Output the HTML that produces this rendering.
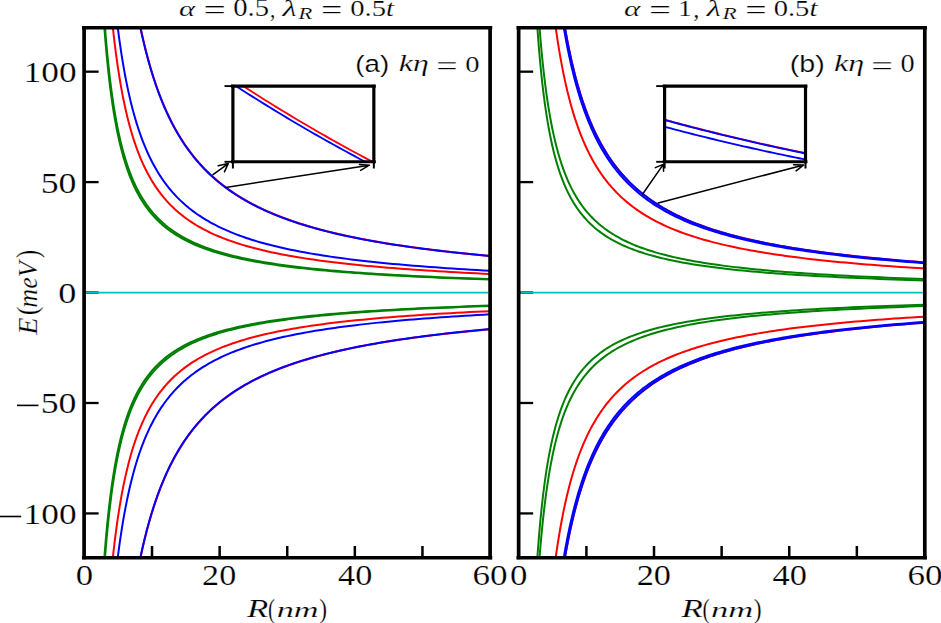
<!DOCTYPE html>
<html><head><meta charset="utf-8"><style>html,body{margin:0;padding:0;background:#fff;width:941px;height:623px;overflow:hidden}</style></head>
<body>
<svg width="941" height="623" viewBox="0 0 771.31 623" preserveAspectRatio="none" style="position:absolute;left:0;top:0">
<clipPath id="clipL"><rect x="68.93" y="27.7" width="332.79" height="530.0999999999999"/></clipPath>
<clipPath id="clipR"><rect x="425.12" y="27.7" width="332.91" height="530.0999999999999"/></clipPath>
<g clip-path="url(#clipL)" fill="none" stroke-width="2.0" stroke-linejoin="round">
<path d="M84.27,5.41 L84.57,10.9 L84.87,16.29 L85.17,21.58 L85.48,26.77 L85.8,31.86 L86.13,36.85 L86.46,41.74 L86.79,46.54 L87.14,51.25 L87.49,55.87 L87.85,60.4 L88.21,64.85 L88.58,69.21 L88.96,73.48 L89.35,77.68 L89.74,81.79 L90.14,85.82 L90.55,89.78 L90.97,93.66 L91.39,97.47 L91.83,101.2 L92.27,104.87 L92.72,108.46 L93.18,111.98 L93.65,115.44 L94.12,118.83 L94.61,122.16 L95.11,125.42 L95.61,128.62 L96.13,131.76 L96.66,134.83 L97.19,137.85 L97.74,140.81 L98.3,143.72 L98.86,146.57 L99.44,149.36 L100.03,152.1 L100.64,154.79 L101.25,157.43 L101.88,160.02 L102.51,162.55 L103.16,165.04 L103.83,167.48 L104.5,169.88 L105.19,172.23 L105.9,174.53 L106.61,176.79 L107.34,179 L108.09,181.18 L108.85,183.31 L109.62,185.4 L110.41,187.45 L111.22,189.46 L112.04,191.44 L112.87,193.37 L113.72,195.27 L114.59,197.13 L115.48,198.96 L116.38,200.75 L117.31,202.51 L118.24,204.23 L119.2,205.92 L120.18,207.58 L121.17,209.21 L122.19,210.8 L123.22,212.37 L124.28,213.9 L125.35,215.41 L126.45,216.89 L127.57,218.33 L128.71,219.75 L129.87,221.15 L131.05,222.52 L132.26,223.86 L133.49,225.17 L134.75,226.46 L136.03,227.73 L137.33,228.97 L138.66,230.18 L140.02,231.38 L141.4,232.55 L142.81,233.7 L144.25,234.82 L145.71,235.93 L147.2,237.01 L148.73,238.08 L150.28,239.12 L151.86,240.14 L153.48,241.15 L155.12,242.13 L156.8,243.09 L158.51,244.04 L160.25,244.97 L162.03,245.88 L163.84,246.77 L165.69,247.65 L167.57,248.51 L169.49,249.35 L171.45,250.18 L173.45,250.99 L175.48,251.79 L177.56,252.57 L179.67,253.33 L181.83,254.08 L184.03,254.82 L186.27,255.54 L188.55,256.25 L190.88,256.94 L193.26,257.63 L195.68,258.29 L198.15,258.95 L200.66,259.59 L203.23,260.22 L205.85,260.84 L208.51,261.45 L211.23,262.05 L214.01,262.63 L216.83,263.2 L219.71,263.76 L222.65,264.32 L225.65,264.86 L228.7,265.39 L231.81,265.91 L234.99,266.42 L238.22,266.92 L241.52,267.41 L244.89,267.89 L248.32,268.36 L251.81,268.82 L255.38,269.28 L259.01,269.72 L262.72,270.16 L266.49,270.59 L270.34,271.01 L274.27,271.42 L278.27,271.83 L282.35,272.22 L286.51,272.61 L290.76,272.99 L295.08,273.37 L299.49,273.74 L303.98,274.1 L308.57,274.45 L313.24,274.8 L318,275.14 L322.86,275.47 L327.81,275.8 L332.86,276.12 L338,276.43 L343.25,276.74 L348.6,277.04 L354.05,277.34 L359.61,277.63 L365.28,277.92 L371.06,278.2 L376.95,278.47 L382.96,278.74 L389.08,279 L395.32,279.26 L401.69,279.52" stroke="#008000" vector-effect="non-scaling-stroke"/>
<path d="M84.78,5.41 L85.08,10.84 L85.39,16.18 L85.7,21.41 L86.02,26.55 L86.35,31.59 L86.68,36.53 L87.02,41.38 L87.36,46.13 L87.71,50.8 L88.07,55.38 L88.43,59.87 L88.81,64.28 L89.19,68.6 L89.57,72.84 L89.97,77 L90.37,81.09 L90.78,85.09 L91.19,89.02 L91.62,92.87 L92.05,96.66 L92.49,100.37 L92.94,104 L93.4,107.58 L93.87,111.08 L94.34,114.52 L94.83,117.89 L95.33,121.2 L95.83,124.44 L96.34,127.62 L96.87,130.75 L97.4,133.81 L97.95,136.82 L98.5,139.77 L99.07,142.66 L99.65,145.5 L100.23,148.28 L100.83,151.02 L101.45,153.7 L102.07,156.33 L102.7,158.91 L103.35,161.44 L104.01,163.92 L104.68,166.36 L105.37,168.75 L106.07,171.09 L106.78,173.39 L107.5,175.65 L108.24,177.86 L109,180.03 L109.77,182.17 L110.55,184.26 L111.35,186.31 L112.16,188.32 L112.99,190.29 L113.84,192.23 L114.7,194.13 L115.58,195.99 L116.47,197.82 L117.39,199.62 L118.32,201.38 L119.27,203.1 L120.23,204.8 L121.22,206.46 L122.22,208.09 L123.25,209.69 L124.29,211.26 L125.36,212.8 L126.44,214.31 L127.55,215.79 L128.67,217.24 L129.82,218.67 L130.99,220.07 L132.18,221.44 L133.4,222.79 L134.64,224.11 L135.9,225.41 L137.19,226.68 L138.51,227.92 L139.84,229.15 L141.21,230.35 L142.6,231.53 L144.02,232.68 L145.46,233.82 L146.93,234.93 L148.43,236.02 L149.96,237.09 L151.52,238.14 L153.11,239.17 L154.73,240.18 L156.38,241.17 L158.07,242.15 L159.78,243.1 L161.53,244.04 L163.31,244.96 L165.13,245.86 L166.98,246.74 L168.87,247.61 L170.8,248.46 L172.76,249.3 L174.76,250.12 L176.8,250.92 L178.87,251.71 L180.99,252.48 L183.15,253.24 L185.35,253.98 L187.59,254.72 L189.88,255.43 L192.21,256.13 L194.58,256.82 L197,257.5 L199.47,258.16 L201.99,258.82 L204.55,259.45 L207.16,260.08 L209.83,260.7 L212.54,261.3 L215.31,261.89 L218.13,262.47 L221.01,263.04 L223.94,263.6 L226.92,264.15 L229.97,264.69 L233.07,265.21 L236.24,265.73 L239.46,266.24 L242.75,266.74 L246.1,267.23 L249.52,267.71 L253,268.18 L256.54,268.64 L260.16,269.09 L263.85,269.54 L267.61,269.97 L271.44,270.4 L275.34,270.82 L279.32,271.23 L283.38,271.63 L287.51,272.03 L291.73,272.42 L296.02,272.8 L300.4,273.17 L304.87,273.54 L309.42,273.9 L314.05,274.25 L318.78,274.6 L323.6,274.94 L328.51,275.27 L333.52,275.6 L338.62,275.92 L343.82,276.24 L349.12,276.55 L354.53,276.85 L360.03,277.15 L365.65,277.44 L371.37,277.72 L377.21,278.01 L383.15,278.28 L389.21,278.55 L395.39,278.82 L401.69,279.08" stroke="#008000" vector-effect="non-scaling-stroke"/>
<path d="M90.71,5.41 L91.08,10.28 L91.46,15.06 L91.84,19.77 L92.23,24.4 L92.63,28.95 L93.04,33.42 L93.45,37.81 L93.87,42.14 L94.29,46.38 L94.72,50.56 L95.17,54.66 L95.61,58.7 L96.07,62.67 L96.53,66.57 L97.01,70.4 L97.49,74.17 L97.97,77.87 L98.47,81.51 L98.98,85.09 L99.49,88.61 L100.01,92.07 L100.55,95.47 L101.09,98.81 L101.64,102.1 L102.2,105.33 L102.77,108.51 L103.35,111.63 L103.94,114.7 L104.54,117.71 L105.15,120.68 L105.77,123.6 L106.4,126.46 L107.04,129.28 L107.69,132.05 L108.36,134.77 L109.04,137.45 L109.72,140.08 L110.42,142.66 L111.13,145.21 L111.86,147.71 L112.59,150.16 L113.34,152.58 L114.11,154.95 L114.88,157.29 L115.67,159.58 L116.47,161.84 L117.29,164.05 L118.12,166.23 L118.96,168.38 L119.82,170.48 L120.69,172.55 L121.58,174.59 L122.49,176.59 L123.41,178.56 L124.34,180.49 L125.3,182.39 L126.26,184.26 L127.25,186.1 L128.25,187.9 L129.27,189.68 L130.31,191.42 L131.36,193.14 L132.43,194.82 L133.53,196.48 L134.64,198.11 L135.77,199.71 L136.91,201.29 L138.08,202.84 L139.27,204.36 L140.48,205.85 L141.71,207.32 L142.96,208.77 L144.24,210.19 L145.53,211.59 L146.85,212.96 L148.19,214.31 L149.55,215.64 L150.94,216.94 L152.35,218.23 L153.79,219.49 L155.25,220.73 L156.73,221.94 L158.24,223.14 L159.78,224.32 L161.34,225.48 L162.93,226.61 L164.55,227.73 L166.2,228.83 L167.87,229.91 L169.57,230.98 L171.31,232.02 L173.07,233.05 L174.86,234.06 L176.68,235.05 L178.54,236.02 L180.43,236.98 L182.35,237.93 L184.3,238.85 L186.28,239.76 L188.3,240.66 L190.36,241.54 L192.45,242.4 L194.58,243.25 L196.74,244.09 L198.94,244.91 L201.18,245.72 L203.46,246.52 L205.78,247.3 L208.13,248.06 L210.53,248.82 L212.97,249.56 L215.45,250.29 L217.98,251.01 L220.54,251.71 L223.16,252.4 L225.81,253.08 L228.52,253.75 L231.26,254.41 L234.06,255.06 L236.91,255.69 L239.8,256.32 L242.75,256.93 L245.74,257.54 L248.79,258.13 L251.89,258.72 L255.04,259.29 L258.25,259.85 L261.51,260.41 L264.83,260.95 L268.2,261.49 L271.64,262.02 L275.13,262.54 L278.68,263.04 L282.3,263.54 L285.98,264.04 L289.72,264.52 L293.52,265 L297.39,265.46 L301.33,265.92 L305.34,266.37 L309.41,266.82 L313.56,267.25 L317.78,267.68 L322.06,268.11 L326.43,268.52 L330.87,268.93 L335.38,269.33 L339.98,269.72 L344.65,270.11 L349.4,270.49 L354.24,270.86 L359.16,271.23 L364.16,271.59 L369.25,271.95 L374.43,272.3 L379.7,272.64 L385.05,272.98 L390.5,273.31 L396.05,273.64 L401.69,273.96" stroke="#ff0000" vector-effect="non-scaling-stroke"/>
<path d="M94.42,5.41 L94.83,10 L95.24,14.51 L95.67,18.96 L96.1,23.33 L96.53,27.63 L96.98,31.87 L97.43,36.04 L97.89,40.14 L98.36,44.17 L98.83,48.14 L99.31,52.05 L99.8,55.89 L100.3,59.68 L100.8,63.4 L101.32,67.06 L101.84,70.67 L102.37,74.21 L102.91,77.7 L103.46,81.14 L104.01,84.52 L104.58,87.84 L105.16,91.12 L105.74,94.34 L106.33,97.51 L106.94,100.62 L107.55,103.69 L108.17,106.71 L108.81,109.68 L109.45,112.6 L110.11,115.48 L110.77,118.31 L111.45,121.1 L112.13,123.84 L112.83,126.53 L113.54,129.19 L114.26,131.8 L114.99,134.37 L115.74,136.9 L116.49,139.39 L117.26,141.83 L118.04,144.24 L118.84,146.62 L119.64,148.95 L120.46,151.24 L121.3,153.5 L122.14,155.73 L123,157.91 L123.88,160.06 L124.77,162.18 L125.67,164.27 L126.59,166.32 L127.52,168.34 L128.47,170.32 L129.43,172.27 L130.41,174.2 L131.4,176.09 L132.41,177.95 L133.44,179.78 L134.49,181.59 L135.55,183.36 L136.62,185.1 L137.72,186.82 L138.83,188.51 L139.96,190.18 L141.11,191.81 L142.28,193.42 L143.47,195.01 L144.68,196.57 L145.9,198.1 L147.15,199.61 L148.42,201.1 L149.7,202.56 L151.01,204 L152.34,205.41 L153.69,206.81 L155.07,208.18 L156.46,209.52 L157.88,210.85 L159.32,212.16 L160.78,213.44 L162.27,214.71 L163.79,215.95 L165.32,217.18 L166.88,218.38 L168.47,219.57 L170.08,220.73 L171.72,221.88 L173.39,223.01 L175.08,224.12 L176.8,225.22 L178.55,226.29 L180.33,227.35 L182.13,228.39 L183.97,229.42 L185.83,230.43 L187.73,231.42 L189.65,232.4 L191.61,233.36 L193.6,234.31 L195.62,235.24 L197.68,236.15 L199.76,237.06 L201.88,237.94 L204.04,238.82 L206.23,239.68 L208.46,240.52 L210.72,241.35 L213.02,242.17 L215.36,242.98 L217.73,243.77 L220.14,244.55 L222.6,245.32 L225.09,246.07 L227.62,246.81 L230.2,247.54 L232.81,248.26 L235.47,248.97 L238.17,249.67 L240.92,250.35 L243.71,251.03 L246.54,251.69 L249.42,252.35 L252.35,252.99 L255.33,253.62 L258.35,254.24 L261.42,254.86 L264.55,255.46 L267.72,256.05 L270.95,256.63 L274.22,257.21 L277.55,257.77 L280.94,258.33 L284.38,258.88 L287.88,259.41 L291.43,259.94 L295.04,260.47 L298.71,260.98 L302.44,261.48 L306.23,261.98 L310.08,262.47 L313.99,262.95 L317.97,263.42 L322.01,263.89 L326.12,264.35 L330.29,264.8 L334.53,265.24 L338.84,265.68 L343.22,266.11 L347.68,266.53 L352.2,266.95 L356.8,267.36 L361.47,267.76 L366.22,268.15 L371.04,268.54 L375.95,268.93 L380.93,269.31 L386,269.68 L391.14,270.04 L396.37,270.4 L401.69,270.76" stroke="#0000ff" vector-effect="non-scaling-stroke"/>
<path d="M111.64,5.41 L112.19,9.08 L112.75,12.7 L113.31,16.28 L113.88,19.81 L114.46,23.29 L115.05,26.73 L115.64,30.13 L116.24,33.49 L116.85,36.8 L117.47,40.07 L118.09,43.29 L118.73,46.48 L119.37,49.62 L120.02,52.73 L120.68,55.79 L121.34,58.82 L122.02,61.81 L122.7,64.76 L123.39,67.67 L124.1,70.54 L124.81,73.38 L125.53,76.18 L126.26,78.95 L127,81.68 L127.74,84.37 L128.5,87.03 L129.27,89.66 L130.05,92.25 L130.84,94.81 L131.63,97.34 L132.44,99.83 L133.26,102.3 L134.09,104.73 L134.93,107.13 L135.78,109.5 L136.65,111.84 L137.52,114.15 L138.4,116.43 L139.3,118.68 L140.21,120.9 L141.13,123.09 L142.06,125.26 L143,127.4 L143.96,129.51 L144.93,131.59 L145.91,133.65 L146.9,135.68 L147.91,137.69 L148.93,139.67 L149.96,141.62 L151,143.55 L152.06,145.45 L153.14,147.33 L154.22,149.19 L155.32,151.02 L156.44,152.83 L157.57,154.62 L158.71,156.38 L159.87,158.12 L161.05,159.84 L162.24,161.53 L163.44,163.21 L164.66,164.86 L165.9,166.49 L167.15,168.1 L168.42,169.7 L169.7,171.27 L171,172.82 L172.32,174.35 L173.66,175.86 L175.01,177.35 L176.38,178.82 L177.77,180.27 L179.17,181.71 L180.6,183.13 L182.04,184.52 L183.5,185.9 L184.98,187.27 L186.48,188.61 L188,189.94 L189.54,191.25 L191.1,192.55 L192.67,193.83 L194.27,195.09 L195.89,196.33 L197.53,197.56 L199.19,198.78 L200.88,199.98 L202.58,201.16 L204.31,202.33 L206.06,203.48 L207.83,204.62 L209.63,205.74 L211.44,206.85 L213.29,207.95 L215.15,209.03 L217.04,210.1 L218.96,211.15 L220.9,212.19 L222.86,213.22 L224.85,214.23 L226.86,215.23 L228.91,216.22 L230.97,217.2 L233.07,218.16 L235.19,219.11 L237.34,220.05 L239.52,220.98 L241.72,221.89 L243.96,222.79 L246.22,223.68 L248.51,224.56 L250.83,225.43 L253.18,226.29 L255.57,227.14 L257.98,227.97 L260.42,228.8 L262.9,229.61 L265.41,230.42 L267.95,231.21 L270.52,232 L273.13,232.77 L275.77,233.53 L278.44,234.29 L281.15,235.03 L283.9,235.77 L286.68,236.49 L289.49,237.21 L292.34,237.92 L295.23,238.62 L298.16,239.31 L301.12,239.99 L304.13,240.66 L307.17,241.32 L310.25,241.98 L313.37,242.62 L316.53,243.26 L319.73,243.89 L322.98,244.51 L326.26,245.13 L329.59,245.73 L332.96,246.33 L336.38,246.92 L339.84,247.5 L343.34,248.08 L346.89,248.65 L350.49,249.21 L354.13,249.76 L357.82,250.31 L361.55,250.85 L365.34,251.38 L369.17,251.91 L373.06,252.43 L376.99,252.94 L380.98,253.45 L385.01,253.95 L389.1,254.44 L393.24,254.93 L397.44,255.41 L401.69,255.88" stroke="#ff0000" vector-effect="non-scaling-stroke"/>
<path d="M111.51,5.41 L112.06,9.08 L112.62,12.71 L113.18,16.29 L113.75,19.83 L114.33,23.32 L114.91,26.76 L115.51,30.17 L116.11,33.52 L116.71,36.84 L117.33,40.11 L117.96,43.34 L118.59,46.53 L119.23,49.68 L119.88,52.79 L120.53,55.86 L121.2,58.89 L121.87,61.88 L122.56,64.83 L123.25,67.75 L123.95,70.62 L124.66,73.47 L125.38,76.27 L126.11,79.04 L126.85,81.77 L127.6,84.47 L128.35,87.13 L129.12,89.76 L129.9,92.36 L130.68,94.92 L131.48,97.45 L132.29,99.95 L133.11,102.41 L133.94,104.84 L134.78,107.25 L135.63,109.62 L136.49,111.96 L137.36,114.27 L138.24,116.55 L139.14,118.81 L140.05,121.03 L140.97,123.23 L141.9,125.39 L142.84,127.53 L143.79,129.64 L144.76,131.73 L145.74,133.79 L146.73,135.82 L147.74,137.83 L148.76,139.81 L149.79,141.76 L150.84,143.69 L151.89,145.6 L152.97,147.48 L154.05,149.34 L155.15,151.17 L156.27,152.98 L157.4,154.76 L158.54,156.53 L159.7,158.27 L160.87,159.99 L162.06,161.68 L163.27,163.36 L164.49,165.01 L165.72,166.65 L166.97,168.26 L168.24,169.85 L169.53,171.42 L170.83,172.97 L172.15,174.5 L173.48,176.01 L174.83,177.5 L176.2,178.97 L177.59,180.43 L179,181.86 L180.42,183.28 L181.86,184.68 L183.32,186.06 L184.8,187.42 L186.3,188.77 L187.82,190.1 L189.36,191.41 L190.92,192.7 L192.49,193.98 L194.09,195.24 L195.71,196.49 L197.35,197.72 L199.02,198.93 L200.7,200.13 L202.4,201.31 L204.13,202.48 L205.88,203.63 L207.65,204.77 L209.45,205.89 L211.27,207 L213.11,208.1 L214.98,209.18 L216.87,210.25 L218.78,211.3 L220.72,212.34 L222.69,213.37 L224.68,214.38 L226.69,215.38 L228.73,216.37 L230.8,217.34 L232.9,218.31 L235.02,219.26 L237.17,220.19 L239.35,221.12 L241.56,222.03 L243.79,222.94 L246.05,223.83 L248.35,224.71 L250.67,225.58 L253.02,226.43 L255.41,227.28 L257.82,228.12 L260.27,228.94 L262.75,229.75 L265.25,230.56 L267.8,231.35 L270.37,232.13 L272.98,232.91 L275.62,233.67 L278.3,234.43 L281.01,235.17 L283.76,235.9 L286.54,236.63 L289.36,237.34 L292.21,238.05 L295.1,238.75 L298.03,239.44 L301,240.12 L304.01,240.79 L307.05,241.45 L310.14,242.1 L313.26,242.75 L316.42,243.39 L319.63,244.02 L322.88,244.64 L326.17,245.25 L329.5,245.86 L332.87,246.45 L336.29,247.04 L339.76,247.63 L343.26,248.2 L346.82,248.77 L350.42,249.33 L354.06,249.88 L357.76,250.43 L361.5,250.97 L365.29,251.5 L369.13,252.03 L373.02,252.54 L376.96,253.06 L380.95,253.56 L384.99,254.06 L389.08,254.55 L393.23,255.04 L397.43,255.52 L401.69,255.99" stroke="#0000ff" vector-effect="non-scaling-stroke"/>
<path d="M84.27,579.69 L84.57,574.2 L84.87,568.81 L85.17,563.52 L85.48,558.33 L85.8,553.24 L86.13,548.25 L86.46,543.36 L86.79,538.56 L87.14,533.85 L87.49,529.23 L87.85,524.7 L88.21,520.25 L88.58,515.89 L88.96,511.62 L89.35,507.42 L89.74,503.31 L90.14,499.28 L90.55,495.32 L90.97,491.44 L91.39,487.63 L91.83,483.9 L92.27,480.23 L92.72,476.64 L93.18,473.12 L93.65,469.66 L94.12,466.27 L94.61,462.94 L95.11,459.68 L95.61,456.48 L96.13,453.34 L96.66,450.27 L97.19,447.25 L97.74,444.29 L98.3,441.38 L98.86,438.53 L99.44,435.74 L100.03,433 L100.64,430.31 L101.25,427.67 L101.88,425.08 L102.51,422.55 L103.16,420.06 L103.83,417.62 L104.5,415.22 L105.19,412.87 L105.9,410.57 L106.61,408.31 L107.34,406.1 L108.09,403.92 L108.85,401.79 L109.62,399.7 L110.41,397.65 L111.22,395.64 L112.04,393.66 L112.87,391.73 L113.72,389.83 L114.59,387.97 L115.48,386.14 L116.38,384.35 L117.31,382.59 L118.24,380.87 L119.2,379.18 L120.18,377.52 L121.17,375.89 L122.19,374.3 L123.22,372.73 L124.28,371.2 L125.35,369.69 L126.45,368.21 L127.57,366.77 L128.71,365.35 L129.87,363.95 L131.05,362.58 L132.26,361.24 L133.49,359.93 L134.75,358.64 L136.03,357.37 L137.33,356.13 L138.66,354.92 L140.02,353.72 L141.4,352.55 L142.81,351.4 L144.25,350.28 L145.71,349.17 L147.2,348.09 L148.73,347.02 L150.28,345.98 L151.86,344.96 L153.48,343.95 L155.12,342.97 L156.8,342.01 L158.51,341.06 L160.25,340.13 L162.03,339.22 L163.84,338.33 L165.69,337.45 L167.57,336.59 L169.49,335.75 L171.45,334.92 L173.45,334.11 L175.48,333.31 L177.56,332.53 L179.67,331.77 L181.83,331.02 L184.03,330.28 L186.27,329.56 L188.55,328.85 L190.88,328.16 L193.26,327.47 L195.68,326.81 L198.15,326.15 L200.66,325.51 L203.23,324.88 L205.85,324.26 L208.51,323.65 L211.23,323.05 L214.01,322.47 L216.83,321.9 L219.71,321.34 L222.65,320.78 L225.65,320.24 L228.7,319.71 L231.81,319.19 L234.99,318.68 L238.22,318.18 L241.52,317.69 L244.89,317.21 L248.32,316.74 L251.81,316.28 L255.38,315.82 L259.01,315.38 L262.72,314.94 L266.49,314.51 L270.34,314.09 L274.27,313.68 L278.27,313.27 L282.35,312.88 L286.51,312.49 L290.76,312.11 L295.08,311.73 L299.49,311.36 L303.98,311 L308.57,310.65 L313.24,310.3 L318,309.96 L322.86,309.63 L327.81,309.3 L332.86,308.98 L338,308.67 L343.25,308.36 L348.6,308.06 L354.05,307.76 L359.61,307.47 L365.28,307.18 L371.06,306.9 L376.95,306.63 L382.96,306.36 L389.08,306.1 L395.32,305.84 L401.69,305.58" stroke="#008000" vector-effect="non-scaling-stroke"/>
<path d="M84.78,579.69 L85.08,574.26 L85.39,568.92 L85.7,563.69 L86.02,558.55 L86.35,553.51 L86.68,548.57 L87.02,543.72 L87.36,538.97 L87.71,534.3 L88.07,529.72 L88.43,525.23 L88.81,520.82 L89.19,516.5 L89.57,512.26 L89.97,508.1 L90.37,504.01 L90.78,500.01 L91.19,496.08 L91.62,492.23 L92.05,488.44 L92.49,484.73 L92.94,481.1 L93.4,477.52 L93.87,474.02 L94.34,470.58 L94.83,467.21 L95.33,463.9 L95.83,460.66 L96.34,457.48 L96.87,454.35 L97.4,451.29 L97.95,448.28 L98.5,445.33 L99.07,442.44 L99.65,439.6 L100.23,436.82 L100.83,434.08 L101.45,431.4 L102.07,428.77 L102.7,426.19 L103.35,423.66 L104.01,421.18 L104.68,418.74 L105.37,416.35 L106.07,414.01 L106.78,411.71 L107.5,409.45 L108.24,407.24 L109,405.07 L109.77,402.93 L110.55,400.84 L111.35,398.79 L112.16,396.78 L112.99,394.81 L113.84,392.87 L114.7,390.97 L115.58,389.11 L116.47,387.28 L117.39,385.48 L118.32,383.72 L119.27,382 L120.23,380.3 L121.22,378.64 L122.22,377.01 L123.25,375.41 L124.29,373.84 L125.36,372.3 L126.44,370.79 L127.55,369.31 L128.67,367.86 L129.82,366.43 L130.99,365.03 L132.18,363.66 L133.4,362.31 L134.64,360.99 L135.9,359.69 L137.19,358.42 L138.51,357.18 L139.84,355.95 L141.21,354.75 L142.6,353.57 L144.02,352.42 L145.46,351.28 L146.93,350.17 L148.43,349.08 L149.96,348.01 L151.52,346.96 L153.11,345.93 L154.73,344.92 L156.38,343.93 L158.07,342.95 L159.78,342 L161.53,341.06 L163.31,340.14 L165.13,339.24 L166.98,338.36 L168.87,337.49 L170.8,336.64 L172.76,335.8 L174.76,334.98 L176.8,334.18 L178.87,333.39 L180.99,332.62 L183.15,331.86 L185.35,331.12 L187.59,330.38 L189.88,329.67 L192.21,328.97 L194.58,328.28 L197,327.6 L199.47,326.94 L201.99,326.28 L204.55,325.65 L207.16,325.02 L209.83,324.4 L212.54,323.8 L215.31,323.21 L218.13,322.63 L221.01,322.06 L223.94,321.5 L226.92,320.95 L229.97,320.41 L233.07,319.89 L236.24,319.37 L239.46,318.86 L242.75,318.36 L246.1,317.87 L249.52,317.39 L253,316.92 L256.54,316.46 L260.16,316.01 L263.85,315.56 L267.61,315.13 L271.44,314.7 L275.34,314.28 L279.32,313.87 L283.38,313.47 L287.51,313.07 L291.73,312.68 L296.02,312.3 L300.4,311.93 L304.87,311.56 L309.42,311.2 L314.05,310.85 L318.78,310.5 L323.6,310.16 L328.51,309.83 L333.52,309.5 L338.62,309.18 L343.82,308.86 L349.12,308.55 L354.53,308.25 L360.03,307.95 L365.65,307.66 L371.37,307.38 L377.21,307.09 L383.15,306.82 L389.21,306.55 L395.39,306.28 L401.69,306.02" stroke="#008000" vector-effect="non-scaling-stroke"/>
<path d="M90.71,579.69 L91.08,574.82 L91.46,570.04 L91.84,565.33 L92.23,560.7 L92.63,556.15 L93.04,551.68 L93.45,547.29 L93.87,542.96 L94.29,538.72 L94.72,534.54 L95.17,530.44 L95.61,526.4 L96.07,522.43 L96.53,518.53 L97.01,514.7 L97.49,510.93 L97.97,507.23 L98.47,503.59 L98.98,500.01 L99.49,496.49 L100.01,493.03 L100.55,489.63 L101.09,486.29 L101.64,483 L102.2,479.77 L102.77,476.59 L103.35,473.47 L103.94,470.4 L104.54,467.39 L105.15,464.42 L105.77,461.5 L106.4,458.64 L107.04,455.82 L107.69,453.05 L108.36,450.33 L109.04,447.65 L109.72,445.02 L110.42,442.44 L111.13,439.89 L111.86,437.39 L112.59,434.94 L113.34,432.52 L114.11,430.15 L114.88,427.81 L115.67,425.52 L116.47,423.26 L117.29,421.05 L118.12,418.87 L118.96,416.72 L119.82,414.62 L120.69,412.55 L121.58,410.51 L122.49,408.51 L123.41,406.54 L124.34,404.61 L125.3,402.71 L126.26,400.84 L127.25,399 L128.25,397.2 L129.27,395.42 L130.31,393.68 L131.36,391.96 L132.43,390.28 L133.53,388.62 L134.64,386.99 L135.77,385.39 L136.91,383.81 L138.08,382.26 L139.27,380.74 L140.48,379.25 L141.71,377.78 L142.96,376.33 L144.24,374.91 L145.53,373.51 L146.85,372.14 L148.19,370.79 L149.55,369.46 L150.94,368.16 L152.35,366.87 L153.79,365.61 L155.25,364.37 L156.73,363.16 L158.24,361.96 L159.78,360.78 L161.34,359.62 L162.93,358.49 L164.55,357.37 L166.2,356.27 L167.87,355.19 L169.57,354.12 L171.31,353.08 L173.07,352.05 L174.86,351.04 L176.68,350.05 L178.54,349.08 L180.43,348.12 L182.35,347.17 L184.3,346.25 L186.28,345.34 L188.3,344.44 L190.36,343.56 L192.45,342.7 L194.58,341.85 L196.74,341.01 L198.94,340.19 L201.18,339.38 L203.46,338.58 L205.78,337.8 L208.13,337.04 L210.53,336.28 L212.97,335.54 L215.45,334.81 L217.98,334.09 L220.54,333.39 L223.16,332.7 L225.81,332.02 L228.52,331.35 L231.26,330.69 L234.06,330.04 L236.91,329.41 L239.8,328.78 L242.75,328.17 L245.74,327.56 L248.79,326.97 L251.89,326.38 L255.04,325.81 L258.25,325.25 L261.51,324.69 L264.83,324.15 L268.2,323.61 L271.64,323.08 L275.13,322.56 L278.68,322.06 L282.3,321.56 L285.98,321.06 L289.72,320.58 L293.52,320.1 L297.39,319.64 L301.33,319.18 L305.34,318.73 L309.41,318.28 L313.56,317.85 L317.78,317.42 L322.06,316.99 L326.43,316.58 L330.87,316.17 L335.38,315.77 L339.98,315.38 L344.65,314.99 L349.4,314.61 L354.24,314.24 L359.16,313.87 L364.16,313.51 L369.25,313.15 L374.43,312.8 L379.7,312.46 L385.05,312.12 L390.5,311.79 L396.05,311.46 L401.69,311.14" stroke="#ff0000" vector-effect="non-scaling-stroke"/>
<path d="M94.42,579.69 L94.83,575.1 L95.24,570.59 L95.67,566.14 L96.1,561.77 L96.53,557.47 L96.98,553.23 L97.43,549.06 L97.89,544.96 L98.36,540.93 L98.83,536.96 L99.31,533.05 L99.8,529.21 L100.3,525.42 L100.8,521.7 L101.32,518.04 L101.84,514.43 L102.37,510.89 L102.91,507.4 L103.46,503.96 L104.01,500.58 L104.58,497.26 L105.16,493.98 L105.74,490.76 L106.33,487.59 L106.94,484.48 L107.55,481.41 L108.17,478.39 L108.81,475.42 L109.45,472.5 L110.11,469.62 L110.77,466.79 L111.45,464 L112.13,461.26 L112.83,458.57 L113.54,455.91 L114.26,453.3 L114.99,450.73 L115.74,448.2 L116.49,445.71 L117.26,443.27 L118.04,440.86 L118.84,438.48 L119.64,436.15 L120.46,433.86 L121.3,431.6 L122.14,429.37 L123,427.19 L123.88,425.04 L124.77,422.92 L125.67,420.83 L126.59,418.78 L127.52,416.76 L128.47,414.78 L129.43,412.83 L130.41,410.9 L131.4,409.01 L132.41,407.15 L133.44,405.32 L134.49,403.51 L135.55,401.74 L136.62,400 L137.72,398.28 L138.83,396.59 L139.96,394.92 L141.11,393.29 L142.28,391.68 L143.47,390.09 L144.68,388.53 L145.9,387 L147.15,385.49 L148.42,384 L149.7,382.54 L151.01,381.1 L152.34,379.69 L153.69,378.29 L155.07,376.92 L156.46,375.58 L157.88,374.25 L159.32,372.94 L160.78,371.66 L162.27,370.39 L163.79,369.15 L165.32,367.92 L166.88,366.72 L168.47,365.53 L170.08,364.37 L171.72,363.22 L173.39,362.09 L175.08,360.98 L176.8,359.88 L178.55,358.81 L180.33,357.75 L182.13,356.71 L183.97,355.68 L185.83,354.67 L187.73,353.68 L189.65,352.7 L191.61,351.74 L193.6,350.79 L195.62,349.86 L197.68,348.95 L199.76,348.04 L201.88,347.16 L204.04,346.28 L206.23,345.42 L208.46,344.58 L210.72,343.75 L213.02,342.93 L215.36,342.12 L217.73,341.33 L220.14,340.55 L222.6,339.78 L225.09,339.03 L227.62,338.29 L230.2,337.56 L232.81,336.84 L235.47,336.13 L238.17,335.43 L240.92,334.75 L243.71,334.07 L246.54,333.41 L249.42,332.75 L252.35,332.11 L255.33,331.48 L258.35,330.86 L261.42,330.24 L264.55,329.64 L267.72,329.05 L270.95,328.47 L274.22,327.89 L277.55,327.33 L280.94,326.77 L284.38,326.22 L287.88,325.69 L291.43,325.16 L295.04,324.63 L298.71,324.12 L302.44,323.62 L306.23,323.12 L310.08,322.63 L313.99,322.15 L317.97,321.68 L322.01,321.21 L326.12,320.75 L330.29,320.3 L334.53,319.86 L338.84,319.42 L343.22,318.99 L347.68,318.57 L352.2,318.15 L356.8,317.74 L361.47,317.34 L366.22,316.95 L371.04,316.56 L375.95,316.17 L380.93,315.79 L386,315.42 L391.14,315.06 L396.37,314.7 L401.69,314.34" stroke="#0000ff" vector-effect="non-scaling-stroke"/>
<path d="M111.64,579.69 L112.19,576.02 L112.75,572.4 L113.31,568.82 L113.88,565.29 L114.46,561.81 L115.05,558.37 L115.64,554.97 L116.24,551.61 L116.85,548.3 L117.47,545.03 L118.09,541.81 L118.73,538.62 L119.37,535.48 L120.02,532.37 L120.68,529.31 L121.34,526.28 L122.02,523.29 L122.7,520.34 L123.39,517.43 L124.1,514.56 L124.81,511.72 L125.53,508.92 L126.26,506.15 L127,503.42 L127.74,500.73 L128.5,498.07 L129.27,495.44 L130.05,492.85 L130.84,490.29 L131.63,487.76 L132.44,485.27 L133.26,482.8 L134.09,480.37 L134.93,477.97 L135.78,475.6 L136.65,473.26 L137.52,470.95 L138.4,468.67 L139.3,466.42 L140.21,464.2 L141.13,462.01 L142.06,459.84 L143,457.7 L143.96,455.59 L144.93,453.51 L145.91,451.45 L146.9,449.42 L147.91,447.41 L148.93,445.43 L149.96,443.48 L151,441.55 L152.06,439.65 L153.14,437.77 L154.22,435.91 L155.32,434.08 L156.44,432.27 L157.57,430.48 L158.71,428.72 L159.87,426.98 L161.05,425.26 L162.24,423.57 L163.44,421.89 L164.66,420.24 L165.9,418.61 L167.15,417 L168.42,415.4 L169.7,413.83 L171,412.28 L172.32,410.75 L173.66,409.24 L175.01,407.75 L176.38,406.28 L177.77,404.83 L179.17,403.39 L180.6,401.97 L182.04,400.58 L183.5,399.2 L184.98,397.83 L186.48,396.49 L188,395.16 L189.54,393.85 L191.1,392.55 L192.67,391.27 L194.27,390.01 L195.89,388.77 L197.53,387.54 L199.19,386.32 L200.88,385.12 L202.58,383.94 L204.31,382.77 L206.06,381.62 L207.83,380.48 L209.63,379.36 L211.44,378.25 L213.29,377.15 L215.15,376.07 L217.04,375 L218.96,373.95 L220.9,372.91 L222.86,371.88 L224.85,370.87 L226.86,369.87 L228.91,368.88 L230.97,367.9 L233.07,366.94 L235.19,365.99 L237.34,365.05 L239.52,364.12 L241.72,363.21 L243.96,362.31 L246.22,361.42 L248.51,360.54 L250.83,359.67 L253.18,358.81 L255.57,357.96 L257.98,357.13 L260.42,356.3 L262.9,355.49 L265.41,354.68 L267.95,353.89 L270.52,353.1 L273.13,352.33 L275.77,351.57 L278.44,350.81 L281.15,350.07 L283.9,349.33 L286.68,348.61 L289.49,347.89 L292.34,347.18 L295.23,346.48 L298.16,345.79 L301.12,345.11 L304.13,344.44 L307.17,343.78 L310.25,343.12 L313.37,342.48 L316.53,341.84 L319.73,341.21 L322.98,340.59 L326.26,339.97 L329.59,339.37 L332.96,338.77 L336.38,338.18 L339.84,337.6 L343.34,337.02 L346.89,336.45 L350.49,335.89 L354.13,335.34 L357.82,334.79 L361.55,334.25 L365.34,333.72 L369.17,333.19 L373.06,332.67 L376.99,332.16 L380.98,331.65 L385.01,331.15 L389.1,330.66 L393.24,330.17 L397.44,329.69 L401.69,329.22" stroke="#ff0000" vector-effect="non-scaling-stroke"/>
<path d="M111.51,579.69 L112.06,576.02 L112.62,572.39 L113.18,568.81 L113.75,565.27 L114.33,561.78 L114.91,558.34 L115.51,554.93 L116.11,551.58 L116.71,548.26 L117.33,544.99 L117.96,541.76 L118.59,538.57 L119.23,535.42 L119.88,532.31 L120.53,529.24 L121.2,526.21 L121.87,523.22 L122.56,520.27 L123.25,517.35 L123.95,514.48 L124.66,511.63 L125.38,508.83 L126.11,506.06 L126.85,503.33 L127.6,500.63 L128.35,497.97 L129.12,495.34 L129.9,492.74 L130.68,490.18 L131.48,487.65 L132.29,485.15 L133.11,482.69 L133.94,480.26 L134.78,477.85 L135.63,475.48 L136.49,473.14 L137.36,470.83 L138.24,468.55 L139.14,466.29 L140.05,464.07 L140.97,461.87 L141.9,459.71 L142.84,457.57 L143.79,455.46 L144.76,453.37 L145.74,451.31 L146.73,449.28 L147.74,447.27 L148.76,445.29 L149.79,443.34 L150.84,441.41 L151.89,439.5 L152.97,437.62 L154.05,435.76 L155.15,433.93 L156.27,432.12 L157.4,430.34 L158.54,428.57 L159.7,426.83 L160.87,425.11 L162.06,423.42 L163.27,421.74 L164.49,420.09 L165.72,418.45 L166.97,416.84 L168.24,415.25 L169.53,413.68 L170.83,412.13 L172.15,410.6 L173.48,409.09 L174.83,407.6 L176.2,406.13 L177.59,404.67 L179,403.24 L180.42,401.82 L181.86,400.42 L183.32,399.04 L184.8,397.68 L186.3,396.33 L187.82,395 L189.36,393.69 L190.92,392.4 L192.49,391.12 L194.09,389.86 L195.71,388.61 L197.35,387.38 L199.02,386.17 L200.7,384.97 L202.4,383.79 L204.13,382.62 L205.88,381.47 L207.65,380.33 L209.45,379.21 L211.27,378.1 L213.11,377 L214.98,375.92 L216.87,374.85 L218.78,373.8 L220.72,372.76 L222.69,371.73 L224.68,370.72 L226.69,369.72 L228.73,368.73 L230.8,367.76 L232.9,366.79 L235.02,365.84 L237.17,364.91 L239.35,363.98 L241.56,363.07 L243.79,362.16 L246.05,361.27 L248.35,360.39 L250.67,359.52 L253.02,358.67 L255.41,357.82 L257.82,356.98 L260.27,356.16 L262.75,355.35 L265.25,354.54 L267.8,353.75 L270.37,352.97 L272.98,352.19 L275.62,351.43 L278.3,350.67 L281.01,349.93 L283.76,349.2 L286.54,348.47 L289.36,347.76 L292.21,347.05 L295.1,346.35 L298.03,345.66 L301,344.98 L304.01,344.31 L307.05,343.65 L310.14,343 L313.26,342.35 L316.42,341.71 L319.63,341.08 L322.88,340.46 L326.17,339.85 L329.5,339.24 L332.87,338.65 L336.29,338.06 L339.76,337.47 L343.26,336.9 L346.82,336.33 L350.42,335.77 L354.06,335.22 L357.76,334.67 L361.5,334.13 L365.29,333.6 L369.13,333.07 L373.02,332.56 L376.96,332.04 L380.95,331.54 L384.99,331.04 L389.08,330.55 L393.23,330.06 L397.43,329.58 L401.69,329.11" stroke="#0000ff" vector-effect="non-scaling-stroke"/>
</g>
<g clip-path="url(#clipR)" fill="none" stroke-width="2.0" stroke-linejoin="round">
<path d="M439.29,5.41 L439.57,11.03 L439.86,16.54 L440.15,21.95 L440.45,27.25 L440.75,32.44 L441.06,37.53 L441.38,42.53 L441.7,47.42 L442.03,52.23 L442.36,56.93 L442.71,61.55 L443.05,66.07 L443.41,70.5 L443.77,74.85 L444.14,79.12 L444.52,83.3 L444.91,87.39 L445.3,91.41 L445.7,95.35 L446.11,99.21 L446.52,103 L446.95,106.71 L447.38,110.35 L447.82,113.92 L448.28,117.41 L448.74,120.84 L449.2,124.21 L449.68,127.5 L450.17,130.73 L450.67,133.9 L451.18,137.01 L451.7,140.06 L452.22,143.04 L452.76,145.97 L453.31,148.84 L453.87,151.65 L454.44,154.41 L455.03,157.12 L455.62,159.77 L456.23,162.37 L456.85,164.92 L457.48,167.42 L458.12,169.87 L458.78,172.27 L459.45,174.63 L460.13,176.94 L460.83,179.2 L461.54,181.42 L462.26,183.6 L463,185.73 L463.76,187.82 L464.53,189.87 L465.31,191.88 L466.11,193.86 L466.93,195.79 L467.76,197.68 L468.61,199.54 L469.48,201.36 L470.36,203.15 L471.26,204.9 L472.18,206.61 L473.12,208.3 L474.07,209.95 L475.05,211.57 L476.04,213.15 L477.06,214.71 L478.09,216.23 L479.15,217.72 L480.23,219.19 L481.32,220.63 L482.44,222.04 L483.59,223.42 L484.75,224.77 L485.94,226.1 L487.15,227.4 L488.39,228.67 L489.65,229.93 L490.94,231.15 L492.25,232.35 L493.59,233.53 L494.95,234.69 L496.34,235.82 L497.76,236.93 L499.21,238.02 L500.69,239.09 L502.2,240.14 L503.73,241.16 L505.3,242.17 L506.9,243.16 L508.53,244.12 L510.2,245.07 L511.89,246 L513.62,246.91 L515.39,247.81 L517.19,248.68 L519.03,249.54 L520.9,250.38 L522.81,251.21 L524.76,252.02 L526.75,252.81 L528.77,253.59 L530.84,254.35 L532.95,255.1 L535.1,255.83 L537.29,256.55 L539.53,257.26 L541.82,257.95 L544.14,258.63 L546.52,259.29 L548.94,259.94 L551.41,260.58 L553.93,261.21 L556.5,261.82 L559.12,262.42 L561.8,263.01 L564.53,263.59 L567.31,264.16 L570.14,264.71 L573.04,265.26 L575.99,265.79 L579,266.32 L582.07,266.83 L585.21,267.34 L588.4,267.83 L591.66,268.31 L594.98,268.79 L598.37,269.25 L601.83,269.71 L605.36,270.16 L608.96,270.6 L612.63,271.03 L616.37,271.45 L620.19,271.86 L624.08,272.27 L628.05,272.66 L632.1,273.05 L636.23,273.43 L640.45,273.81 L644.75,274.17 L649.13,274.53 L653.6,274.89 L658.16,275.23 L662.81,275.57 L667.56,275.9 L672.4,276.23 L677.34,276.55 L682.37,276.86 L687.51,277.17 L692.75,277.47 L698.09,277.77 L703.54,278.06 L709.1,278.34 L714.77,278.62 L720.55,278.89 L726.45,279.16 L732.46,279.42 L738.6,279.68 L744.86,279.93 L751.24,280.18 L757.75,280.42" stroke="#008000" vector-effect="non-scaling-stroke"/>
<path d="M440.93,5.41 L441.24,10.83 L441.54,16.16 L441.86,21.39 L442.18,26.51 L442.5,31.54 L442.84,36.48 L443.18,41.32 L443.52,46.07 L443.87,50.73 L444.23,55.3 L444.6,59.78 L444.97,64.18 L445.35,68.5 L445.74,72.74 L446.13,76.89 L446.54,80.97 L446.95,84.97 L447.36,88.89 L447.79,92.74 L448.23,96.52 L448.67,100.23 L449.12,103.86 L449.58,107.43 L450.05,110.93 L450.53,114.36 L451.01,117.73 L451.51,121.04 L452.02,124.28 L452.53,127.46 L453.06,130.58 L453.59,133.64 L454.14,136.65 L454.7,139.6 L455.26,142.49 L455.84,145.32 L456.43,148.11 L457.03,150.84 L457.65,153.52 L458.27,156.15 L458.91,158.72 L459.55,161.25 L460.22,163.74 L460.89,166.17 L461.58,168.56 L462.28,170.91 L462.99,173.21 L463.72,175.46 L464.46,177.67 L465.21,179.85 L465.98,181.98 L466.77,184.07 L467.57,186.12 L468.39,188.13 L469.22,190.1 L470.06,192.04 L470.93,193.94 L471.81,195.81 L472.71,197.63 L473.62,199.43 L474.55,201.19 L475.5,202.92 L476.47,204.61 L477.46,206.27 L478.46,207.91 L479.49,209.51 L480.53,211.08 L481.6,212.62 L482.69,214.13 L483.79,215.61 L484.92,217.06 L486.07,218.49 L487.24,219.89 L488.44,221.26 L489.65,222.61 L490.9,223.93 L492.16,225.23 L493.45,226.5 L494.76,227.75 L496.1,228.98 L497.47,230.18 L498.86,231.36 L500.28,232.52 L501.73,233.65 L503.2,234.76 L504.7,235.86 L506.23,236.93 L507.79,237.98 L509.38,239.01 L511.01,240.02 L512.66,241.02 L514.34,241.99 L516.06,242.95 L517.81,243.88 L519.59,244.8 L521.41,245.71 L523.26,246.59 L525.15,247.46 L527.08,248.31 L529.04,249.15 L531.04,249.97 L533.08,250.78 L535.16,251.57 L537.27,252.34 L539.43,253.1 L541.63,253.85 L543.88,254.58 L546.16,255.3 L548.49,256 L550.87,256.69 L553.29,257.37 L555.75,258.03 L558.27,258.69 L560.83,259.33 L563.45,259.96 L566.11,260.57 L568.82,261.18 L571.59,261.77 L574.41,262.35 L577.28,262.92 L580.21,263.48 L583.2,264.03 L586.24,264.57 L589.35,265.1 L592.51,265.62 L595.73,266.13 L599.02,266.63 L602.36,267.12 L605.78,267.6 L609.26,268.07 L612.8,268.53 L616.42,268.99 L620.1,269.43 L623.85,269.87 L627.68,270.3 L631.58,270.72 L635.56,271.13 L639.61,271.54 L643.74,271.93 L647.95,272.32 L652.24,272.71 L656.62,273.08 L661.08,273.45 L665.62,273.81 L670.25,274.16 L674.97,274.51 L679.79,274.85 L684.69,275.19 L689.69,275.52 L694.79,275.84 L699.98,276.15 L705.27,276.46 L710.67,276.77 L716.17,277.07 L721.78,277.36 L727.49,277.65 L733.31,277.93 L739.25,278.2 L745.3,278.48 L751.47,278.74 L757.75,279" stroke="#008000" vector-effect="non-scaling-stroke"/>
<path d="M453.17,5.41 L453.6,9.82 L454.05,14.16 L454.5,18.44 L454.95,22.65 L455.42,26.8 L455.89,30.88 L456.36,34.9 L456.85,38.86 L457.34,42.76 L457.84,46.59 L458.35,50.37 L458.87,54.09 L459.39,57.76 L459.93,61.36 L460.47,64.92 L461.02,68.41 L461.58,71.86 L462.14,75.25 L462.72,78.59 L463.3,81.87 L463.9,85.11 L464.5,88.3 L465.11,91.43 L465.73,94.52 L466.37,97.57 L467.01,100.56 L467.66,103.51 L468.32,106.42 L468.99,109.28 L469.68,112.09 L470.37,114.86 L471.07,117.59 L471.79,120.28 L472.51,122.93 L473.25,125.53 L474,128.1 L474.76,130.63 L475.53,133.11 L476.32,135.56 L477.12,137.98 L477.92,140.35 L478.75,142.69 L479.58,144.99 L480.43,147.26 L481.29,149.49 L482.16,151.69 L483.05,153.85 L483.95,155.98 L484.87,158.08 L485.8,160.15 L486.75,162.18 L487.71,164.18 L488.68,166.16 L489.67,168.1 L490.68,170.01 L491.7,171.89 L492.73,173.75 L493.79,175.57 L494.86,177.37 L495.94,179.14 L497.04,180.88 L498.17,182.6 L499.3,184.29 L500.46,185.95 L501.63,187.59 L502.82,189.2 L504.03,190.79 L505.26,192.35 L506.51,193.89 L507.78,195.41 L509.07,196.9 L510.38,198.37 L511.7,199.82 L513.05,201.24 L514.42,202.64 L515.81,204.02 L517.23,205.38 L518.66,206.72 L520.12,208.04 L521.6,209.34 L523.1,210.62 L524.63,211.88 L526.18,213.12 L527.76,214.34 L529.36,215.54 L530.98,216.72 L532.63,217.89 L534.31,219.03 L536.01,220.16 L537.74,221.28 L539.49,222.37 L541.27,223.45 L543.08,224.51 L544.92,225.56 L546.79,226.59 L548.69,227.6 L550.61,228.6 L552.57,229.58 L554.56,230.55 L556.57,231.5 L558.62,232.44 L560.7,233.36 L562.82,234.27 L564.96,235.17 L567.14,236.05 L569.36,236.92 L571.61,237.77 L573.89,238.61 L576.21,239.44 L578.57,240.26 L580.96,241.06 L583.39,241.85 L585.86,242.63 L588.36,243.4 L590.91,244.15 L593.49,244.9 L596.12,245.63 L598.78,246.35 L601.49,247.06 L604.24,247.76 L607.03,248.45 L609.87,249.12 L612.75,249.79 L615.68,250.45 L618.65,251.09 L621.66,251.73 L624.73,252.36 L627.84,252.98 L631,253.58 L634.21,254.18 L637.47,254.77 L640.79,255.35 L644.15,255.92 L647.56,256.49 L651.03,257.04 L654.56,257.59 L658.13,258.12 L661.77,258.65 L665.46,259.17 L669.21,259.69 L673.01,260.19 L676.88,260.69 L680.81,261.18 L684.79,261.66 L688.84,262.13 L692.96,262.6 L697.13,263.06 L701.38,263.51 L705.68,263.96 L710.06,264.4 L714.5,264.83 L719.02,265.26 L723.6,265.68 L728.26,266.09 L732.98,266.5 L737.79,266.9 L742.66,267.29 L747.62,267.68 L752.65,268.06 L757.75,268.44" stroke="#ff0000" vector-effect="non-scaling-stroke"/>
<path d="M460.16,5.41 L460.65,9.42 L461.16,13.38 L461.67,17.29 L462.18,21.14 L462.71,24.93 L463.24,28.68 L463.78,32.37 L464.32,36.01 L464.88,39.6 L465.44,43.13 L466.01,46.62 L466.59,50.06 L467.18,53.45 L467.77,56.8 L468.37,60.1 L468.99,63.35 L469.61,66.55 L470.24,69.71 L470.87,72.83 L471.52,75.91 L472.18,78.94 L472.84,81.92 L473.52,84.87 L474.2,87.77 L474.9,90.64 L475.6,93.46 L476.32,96.25 L477.04,98.99 L477.78,101.7 L478.52,104.37 L479.28,107 L480.04,109.6 L480.82,112.16 L481.61,114.68 L482.41,117.17 L483.22,119.62 L484.04,122.04 L484.88,124.43 L485.72,126.78 L486.58,129.1 L487.45,131.38 L488.33,133.64 L489.23,135.86 L490.13,138.05 L491.05,140.21 L491.99,142.34 L492.93,144.44 L493.9,146.52 L494.87,148.56 L495.86,150.57 L496.86,152.56 L497.87,154.52 L498.9,156.45 L499.95,158.35 L501.01,160.23 L502.08,162.08 L503.17,163.9 L504.28,165.7 L505.4,167.48 L506.54,169.23 L507.69,170.95 L508.86,172.65 L510.05,174.33 L511.25,175.98 L512.47,177.61 L513.71,179.22 L514.96,180.81 L516.23,182.37 L517.53,183.91 L518.83,185.43 L520.16,186.93 L521.51,188.41 L522.87,189.86 L524.26,191.3 L525.66,192.72 L527.09,194.11 L528.53,195.49 L530,196.85 L531.48,198.18 L532.99,199.5 L534.52,200.81 L536.07,202.09 L537.64,203.35 L539.24,204.6 L540.85,205.83 L542.49,207.05 L544.16,208.24 L545.84,209.42 L547.55,210.58 L549.29,211.73 L551.05,212.86 L552.83,213.98 L554.64,215.07 L556.48,216.16 L558.34,217.23 L560.23,218.28 L562.14,219.32 L564.09,220.34 L566.06,221.35 L568.05,222.35 L570.08,223.33 L572.13,224.3 L574.22,225.25 L576.33,226.2 L578.47,227.12 L580.65,228.04 L582.85,228.94 L585.09,229.83 L587.35,230.71 L589.65,231.57 L591.99,232.43 L594.35,233.27 L596.75,234.1 L599.18,234.91 L601.65,235.72 L604.15,236.51 L606.69,237.3 L609.27,238.07 L611.88,238.83 L614.52,239.58 L617.21,240.33 L619.93,241.06 L622.69,241.78 L625.49,242.49 L628.34,243.19 L631.22,243.88 L634.14,244.56 L637.1,245.23 L640.11,245.89 L643.15,246.54 L646.25,247.19 L649.38,247.82 L652.56,248.45 L655.79,249.06 L659.06,249.67 L662.37,250.27 L665.74,250.86 L669.15,251.45 L672.61,252.02 L676.12,252.59 L679.68,253.15 L683.29,253.7 L686.95,254.24 L690.66,254.78 L694.42,255.31 L698.24,255.83 L702.11,256.34 L706.04,256.85 L710.03,257.35 L714.07,257.84 L718.16,258.32 L722.32,258.8 L726.53,259.28 L730.81,259.74 L735.14,260.2 L739.54,260.65 L744,261.1 L748.52,261.54 L753.1,261.97 L757.75,262.4" stroke="#ff0000" vector-effect="non-scaling-stroke"/>
<path d="M460.12,5.41 L460.61,9.42 L461.11,13.39 L461.62,17.29 L462.14,21.15 L462.66,24.94 L463.19,28.69 L463.73,32.38 L464.28,36.02 L464.83,39.61 L465.39,43.15 L465.96,46.64 L466.54,50.08 L467.13,53.48 L467.72,56.82 L468.33,60.12 L468.94,63.38 L469.56,66.58 L470.19,69.75 L470.82,72.86 L471.47,75.94 L472.13,78.97 L472.79,81.96 L473.47,84.91 L474.15,87.81 L474.85,90.68 L475.55,93.5 L476.26,96.29 L476.99,99.03 L477.72,101.74 L478.47,104.41 L479.22,107.05 L479.99,109.64 L480.77,112.2 L481.55,114.73 L482.35,117.21 L483.16,119.67 L483.99,122.09 L484.82,124.47 L485.67,126.83 L486.52,129.15 L487.39,131.43 L488.27,133.69 L489.17,135.91 L490.08,138.1 L491,140.26 L491.93,142.4 L492.88,144.5 L493.84,146.57 L494.81,148.61 L495.8,150.63 L496.8,152.61 L497.81,154.57 L498.84,156.5 L499.89,158.41 L500.95,160.28 L502.02,162.13 L503.11,163.96 L504.22,165.76 L505.34,167.53 L506.48,169.28 L507.63,171.01 L508.8,172.71 L509.98,174.39 L511.19,176.04 L512.41,177.67 L513.64,179.28 L514.9,180.86 L516.17,182.43 L517.46,183.97 L518.77,185.49 L520.1,186.99 L521.44,188.46 L522.81,189.92 L524.19,191.36 L525.6,192.77 L527.02,194.17 L528.47,195.55 L529.93,196.9 L531.42,198.24 L532.93,199.56 L534.45,200.86 L536,202.15 L537.58,203.41 L539.17,204.66 L540.79,205.89 L542.43,207.1 L544.09,208.3 L545.78,209.48 L547.49,210.64 L549.22,211.79 L550.98,212.92 L552.77,214.03 L554.58,215.13 L556.41,216.21 L558.27,217.28 L560.16,218.33 L562.08,219.37 L564.02,220.4 L565.99,221.41 L567.99,222.4 L570.01,223.38 L572.07,224.35 L574.15,225.31 L576.27,226.25 L578.41,227.18 L580.58,228.09 L582.79,228.99 L585.02,229.88 L587.29,230.76 L589.59,231.62 L591.92,232.48 L594.29,233.32 L596.69,234.15 L599.12,234.96 L601.59,235.77 L604.09,236.56 L606.63,237.35 L609.21,238.12 L611.82,238.88 L614.47,239.63 L617.15,240.37 L619.88,241.1 L622.64,241.82 L625.44,242.53 L628.28,243.23 L631.16,243.92 L634.09,244.6 L637.05,245.28 L640.06,245.94 L643.11,246.59 L646.2,247.23 L649.33,247.87 L652.51,248.49 L655.74,249.11 L659.01,249.72 L662.33,250.32 L665.69,250.91 L669.11,251.49 L672.57,252.06 L676.08,252.63 L679.64,253.19 L683.25,253.74 L686.91,254.28 L690.63,254.82 L694.39,255.35 L698.21,255.87 L702.09,256.38 L706.02,256.89 L710,257.39 L714.04,257.88 L718.14,258.36 L722.3,258.84 L726.52,259.31 L730.79,259.78 L735.13,260.24 L739.53,260.69 L743.99,261.14 L748.51,261.58 L753.1,262.01 L757.75,262.44" stroke="#0000ff" vector-effect="non-scaling-stroke"/>
<path d="M459.26,5.41 L459.75,9.47 L460.25,13.47 L460.75,17.42 L461.26,21.31 L461.78,25.15 L462.3,28.93 L462.83,32.66 L463.37,36.34 L463.92,39.97 L464.47,43.54 L465.04,47.06 L465.61,50.53 L466.19,53.96 L466.77,57.33 L467.37,60.66 L467.97,63.94 L468.59,67.18 L469.21,70.37 L469.84,73.51 L470.48,76.61 L471.13,79.66 L471.79,82.67 L472.46,85.64 L473.13,88.57 L473.82,91.46 L474.52,94.3 L475.23,97.11 L475.94,99.87 L476.67,102.6 L477.41,105.28 L478.16,107.93 L478.92,110.55 L479.69,113.12 L480.47,115.66 L481.26,118.16 L482.06,120.63 L482.88,123.06 L483.71,125.46 L484.54,127.82 L485.4,130.15 L486.26,132.45 L487.13,134.72 L488.02,136.95 L488.92,139.15 L489.84,141.32 L490.76,143.46 L491.7,145.57 L492.66,147.65 L493.63,149.7 L494.61,151.72 L495.6,153.71 L496.61,155.68 L497.64,157.61 L498.67,159.52 L499.73,161.4 L500.8,163.26 L501.88,165.09 L502.98,166.89 L504.1,168.67 L505.23,170.42 L506.38,172.15 L507.54,173.85 L508.72,175.53 L509.92,177.19 L511.13,178.82 L512.37,180.43 L513.62,182.02 L514.89,183.58 L516.17,185.12 L517.48,186.64 L518.8,188.14 L520.14,189.62 L521.5,191.07 L522.89,192.51 L524.29,193.92 L525.71,195.32 L527.15,196.69 L528.61,198.05 L530.1,199.39 L531.6,200.71 L533.13,202 L534.67,203.29 L536.25,204.55 L537.84,205.79 L539.45,207.02 L541.09,208.23 L542.76,209.42 L544.44,210.6 L546.15,211.76 L547.89,212.9 L549.65,214.03 L551.43,215.14 L553.24,216.24 L555.08,217.31 L556.94,218.38 L558.83,219.43 L560.75,220.46 L562.69,221.48 L564.67,222.49 L566.67,223.48 L568.7,224.46 L570.76,225.42 L572.84,226.37 L574.96,227.31 L577.11,228.23 L579.29,229.14 L581.5,230.04 L583.74,230.92 L586.02,231.79 L588.33,232.65 L590.67,233.5 L593.04,234.33 L595.45,235.16 L597.89,235.97 L600.37,236.77 L602.88,237.56 L605.43,238.34 L608.02,239.1 L610.64,239.86 L613.3,240.61 L616,241.34 L618.73,242.07 L621.51,242.78 L624.33,243.48 L627.18,244.18 L630.08,244.86 L633.02,245.54 L636,246.2 L639.03,246.86 L642.1,247.5 L645.21,248.14 L648.36,248.77 L651.57,249.39 L654.81,250 L658.11,250.6 L661.45,251.2 L664.84,251.78 L668.28,252.36 L671.77,252.93 L675.3,253.49 L678.89,254.04 L682.53,254.58 L686.22,255.12 L689.97,255.65 L693.77,256.17 L697.62,256.69 L701.53,257.19 L705.5,257.7 L709.52,258.19 L713.6,258.67 L717.74,259.15 L721.93,259.63 L726.19,260.09 L730.51,260.55 L734.89,261 L739.33,261.45 L743.84,261.89 L748.41,262.32 L753.05,262.75 L757.75,263.17" stroke="#0000ff" vector-effect="non-scaling-stroke"/>
<path d="M439.29,579.69 L439.57,574.07 L439.86,568.56 L440.15,563.15 L440.45,557.85 L440.75,552.66 L441.06,547.57 L441.38,542.57 L441.7,537.68 L442.03,532.87 L442.36,528.17 L442.71,523.55 L443.05,519.03 L443.41,514.6 L443.77,510.25 L444.14,505.98 L444.52,501.8 L444.91,497.71 L445.3,493.69 L445.7,489.75 L446.11,485.89 L446.52,482.1 L446.95,478.39 L447.38,474.75 L447.82,471.18 L448.28,467.69 L448.74,464.26 L449.2,460.89 L449.68,457.6 L450.17,454.37 L450.67,451.2 L451.18,448.09 L451.7,445.04 L452.22,442.06 L452.76,439.13 L453.31,436.26 L453.87,433.45 L454.44,430.69 L455.03,427.98 L455.62,425.33 L456.23,422.73 L456.85,420.18 L457.48,417.68 L458.12,415.23 L458.78,412.83 L459.45,410.47 L460.13,408.16 L460.83,405.9 L461.54,403.68 L462.26,401.5 L463,399.37 L463.76,397.28 L464.53,395.23 L465.31,393.22 L466.11,391.24 L466.93,389.31 L467.76,387.42 L468.61,385.56 L469.48,383.74 L470.36,381.95 L471.26,380.2 L472.18,378.49 L473.12,376.8 L474.07,375.15 L475.05,373.53 L476.04,371.95 L477.06,370.39 L478.09,368.87 L479.15,367.38 L480.23,365.91 L481.32,364.47 L482.44,363.06 L483.59,361.68 L484.75,360.33 L485.94,359 L487.15,357.7 L488.39,356.43 L489.65,355.17 L490.94,353.95 L492.25,352.75 L493.59,351.57 L494.95,350.41 L496.34,349.28 L497.76,348.17 L499.21,347.08 L500.69,346.01 L502.2,344.96 L503.73,343.94 L505.3,342.93 L506.9,341.94 L508.53,340.98 L510.2,340.03 L511.89,339.1 L513.62,338.19 L515.39,337.29 L517.19,336.42 L519.03,335.56 L520.9,334.72 L522.81,333.89 L524.76,333.08 L526.75,332.29 L528.77,331.51 L530.84,330.75 L532.95,330 L535.1,329.27 L537.29,328.55 L539.53,327.84 L541.82,327.15 L544.14,326.47 L546.52,325.81 L548.94,325.16 L551.41,324.52 L553.93,323.89 L556.5,323.28 L559.12,322.68 L561.8,322.09 L564.53,321.51 L567.31,320.94 L570.14,320.39 L573.04,319.84 L575.99,319.31 L579,318.78 L582.07,318.27 L585.21,317.76 L588.4,317.27 L591.66,316.79 L594.98,316.31 L598.37,315.85 L601.83,315.39 L605.36,314.94 L608.96,314.5 L612.63,314.07 L616.37,313.65 L620.19,313.24 L624.08,312.83 L628.05,312.44 L632.1,312.05 L636.23,311.67 L640.45,311.29 L644.75,310.93 L649.13,310.57 L653.6,310.21 L658.16,309.87 L662.81,309.53 L667.56,309.2 L672.4,308.87 L677.34,308.55 L682.37,308.24 L687.51,307.93 L692.75,307.63 L698.09,307.33 L703.54,307.04 L709.1,306.76 L714.77,306.48 L720.55,306.21 L726.45,305.94 L732.46,305.68 L738.6,305.42 L744.86,305.17 L751.24,304.92 L757.75,304.68" stroke="#008000" vector-effect="non-scaling-stroke"/>
<path d="M440.93,579.69 L441.24,574.27 L441.54,568.94 L441.86,563.71 L442.18,558.59 L442.5,553.56 L442.84,548.62 L443.18,543.78 L443.52,539.03 L443.87,534.37 L444.23,529.8 L444.6,525.32 L444.97,520.92 L445.35,516.6 L445.74,512.36 L446.13,508.21 L446.54,504.13 L446.95,500.13 L447.36,496.21 L447.79,492.36 L448.23,488.58 L448.67,484.87 L449.12,481.24 L449.58,477.67 L450.05,474.17 L450.53,470.74 L451.01,467.37 L451.51,464.06 L452.02,460.82 L452.53,457.64 L453.06,454.52 L453.59,451.46 L454.14,448.45 L454.7,445.5 L455.26,442.61 L455.84,439.78 L456.43,436.99 L457.03,434.26 L457.65,431.58 L458.27,428.95 L458.91,426.38 L459.55,423.85 L460.22,421.36 L460.89,418.93 L461.58,416.54 L462.28,414.19 L462.99,411.89 L463.72,409.64 L464.46,407.43 L465.21,405.25 L465.98,403.12 L466.77,401.03 L467.57,398.98 L468.39,396.97 L469.22,395 L470.06,393.06 L470.93,391.16 L471.81,389.29 L472.71,387.47 L473.62,385.67 L474.55,383.91 L475.5,382.18 L476.47,380.49 L477.46,378.83 L478.46,377.19 L479.49,375.59 L480.53,374.02 L481.6,372.48 L482.69,370.97 L483.79,369.49 L484.92,368.04 L486.07,366.61 L487.24,365.21 L488.44,363.84 L489.65,362.49 L490.9,361.17 L492.16,359.87 L493.45,358.6 L494.76,357.35 L496.1,356.12 L497.47,354.92 L498.86,353.74 L500.28,352.58 L501.73,351.45 L503.2,350.34 L504.7,349.24 L506.23,348.17 L507.79,347.12 L509.38,346.09 L511.01,345.08 L512.66,344.08 L514.34,343.11 L516.06,342.15 L517.81,341.22 L519.59,340.3 L521.41,339.39 L523.26,338.51 L525.15,337.64 L527.08,336.79 L529.04,335.95 L531.04,335.13 L533.08,334.32 L535.16,333.53 L537.27,332.76 L539.43,332 L541.63,331.25 L543.88,330.52 L546.16,329.8 L548.49,329.1 L550.87,328.41 L553.29,327.73 L555.75,327.07 L558.27,326.41 L560.83,325.77 L563.45,325.14 L566.11,324.53 L568.82,323.92 L571.59,323.33 L574.41,322.75 L577.28,322.18 L580.21,321.62 L583.2,321.07 L586.24,320.53 L589.35,320 L592.51,319.48 L595.73,318.97 L599.02,318.47 L602.36,317.98 L605.78,317.5 L609.26,317.03 L612.8,316.57 L616.42,316.11 L620.1,315.67 L623.85,315.23 L627.68,314.8 L631.58,314.38 L635.56,313.97 L639.61,313.56 L643.74,313.17 L647.95,312.78 L652.24,312.39 L656.62,312.02 L661.08,311.65 L665.62,311.29 L670.25,310.94 L674.97,310.59 L679.79,310.25 L684.69,309.91 L689.69,309.58 L694.79,309.26 L699.98,308.95 L705.27,308.64 L710.67,308.33 L716.17,308.03 L721.78,307.74 L727.49,307.45 L733.31,307.17 L739.25,306.9 L745.3,306.62 L751.47,306.36 L757.75,306.1" stroke="#008000" vector-effect="non-scaling-stroke"/>
<path d="M453.17,579.69 L453.6,575.28 L454.05,570.94 L454.5,566.66 L454.95,562.45 L455.42,558.3 L455.89,554.22 L456.36,550.2 L456.85,546.24 L457.34,542.34 L457.84,538.51 L458.35,534.73 L458.87,531.01 L459.39,527.34 L459.93,523.74 L460.47,520.18 L461.02,516.69 L461.58,513.24 L462.14,509.85 L462.72,506.51 L463.3,503.23 L463.9,499.99 L464.5,496.8 L465.11,493.67 L465.73,490.58 L466.37,487.53 L467.01,484.54 L467.66,481.59 L468.32,478.68 L468.99,475.82 L469.68,473.01 L470.37,470.24 L471.07,467.51 L471.79,464.82 L472.51,462.17 L473.25,459.57 L474,457 L474.76,454.47 L475.53,451.99 L476.32,449.54 L477.12,447.12 L477.92,444.75 L478.75,442.41 L479.58,440.11 L480.43,437.84 L481.29,435.61 L482.16,433.41 L483.05,431.25 L483.95,429.12 L484.87,427.02 L485.8,424.95 L486.75,422.92 L487.71,420.92 L488.68,418.94 L489.67,417 L490.68,415.09 L491.7,413.21 L492.73,411.35 L493.79,409.53 L494.86,407.73 L495.94,405.96 L497.04,404.22 L498.17,402.5 L499.3,400.81 L500.46,399.15 L501.63,397.51 L502.82,395.9 L504.03,394.31 L505.26,392.75 L506.51,391.21 L507.78,389.69 L509.07,388.2 L510.38,386.73 L511.7,385.28 L513.05,383.86 L514.42,382.46 L515.81,381.08 L517.23,379.72 L518.66,378.38 L520.12,377.06 L521.6,375.76 L523.1,374.48 L524.63,373.22 L526.18,371.98 L527.76,370.76 L529.36,369.56 L530.98,368.38 L532.63,367.21 L534.31,366.07 L536.01,364.94 L537.74,363.82 L539.49,362.73 L541.27,361.65 L543.08,360.59 L544.92,359.54 L546.79,358.51 L548.69,357.5 L550.61,356.5 L552.57,355.52 L554.56,354.55 L556.57,353.6 L558.62,352.66 L560.7,351.74 L562.82,350.83 L564.96,349.93 L567.14,349.05 L569.36,348.18 L571.61,347.33 L573.89,346.49 L576.21,345.66 L578.57,344.84 L580.96,344.04 L583.39,343.25 L585.86,342.47 L588.36,341.7 L590.91,340.95 L593.49,340.2 L596.12,339.47 L598.78,338.75 L601.49,338.04 L604.24,337.34 L607.03,336.65 L609.87,335.98 L612.75,335.31 L615.68,334.65 L618.65,334.01 L621.66,333.37 L624.73,332.74 L627.84,332.12 L631,331.52 L634.21,330.92 L637.47,330.33 L640.79,329.75 L644.15,329.18 L647.56,328.61 L651.03,328.06 L654.56,327.51 L658.13,326.98 L661.77,326.45 L665.46,325.93 L669.21,325.41 L673.01,324.91 L676.88,324.41 L680.81,323.92 L684.79,323.44 L688.84,322.97 L692.96,322.5 L697.13,322.04 L701.38,321.59 L705.68,321.14 L710.06,320.7 L714.5,320.27 L719.02,319.84 L723.6,319.42 L728.26,319.01 L732.98,318.6 L737.79,318.2 L742.66,317.81 L747.62,317.42 L752.65,317.04 L757.75,316.66" stroke="#ff0000" vector-effect="non-scaling-stroke"/>
<path d="M460.16,579.69 L460.65,575.68 L461.16,571.72 L461.67,567.81 L462.18,563.96 L462.71,560.17 L463.24,556.42 L463.78,552.73 L464.32,549.09 L464.88,545.5 L465.44,541.97 L466.01,538.48 L466.59,535.04 L467.18,531.65 L467.77,528.3 L468.37,525 L468.99,521.75 L469.61,518.55 L470.24,515.39 L470.87,512.27 L471.52,509.19 L472.18,506.16 L472.84,503.18 L473.52,500.23 L474.2,497.33 L474.9,494.46 L475.6,491.64 L476.32,488.85 L477.04,486.11 L477.78,483.4 L478.52,480.73 L479.28,478.1 L480.04,475.5 L480.82,472.94 L481.61,470.42 L482.41,467.93 L483.22,465.48 L484.04,463.06 L484.88,460.67 L485.72,458.32 L486.58,456 L487.45,453.72 L488.33,451.46 L489.23,449.24 L490.13,447.05 L491.05,444.89 L491.99,442.76 L492.93,440.66 L493.9,438.58 L494.87,436.54 L495.86,434.53 L496.86,432.54 L497.87,430.58 L498.9,428.65 L499.95,426.75 L501.01,424.87 L502.08,423.02 L503.17,421.2 L504.28,419.4 L505.4,417.62 L506.54,415.87 L507.69,414.15 L508.86,412.45 L510.05,410.77 L511.25,409.12 L512.47,407.49 L513.71,405.88 L514.96,404.29 L516.23,402.73 L517.53,401.19 L518.83,399.67 L520.16,398.17 L521.51,396.69 L522.87,395.24 L524.26,393.8 L525.66,392.38 L527.09,390.99 L528.53,389.61 L530,388.25 L531.48,386.92 L532.99,385.6 L534.52,384.29 L536.07,383.01 L537.64,381.75 L539.24,380.5 L540.85,379.27 L542.49,378.05 L544.16,376.86 L545.84,375.68 L547.55,374.52 L549.29,373.37 L551.05,372.24 L552.83,371.12 L554.64,370.03 L556.48,368.94 L558.34,367.87 L560.23,366.82 L562.14,365.78 L564.09,364.76 L566.06,363.75 L568.05,362.75 L570.08,361.77 L572.13,360.8 L574.22,359.85 L576.33,358.9 L578.47,357.98 L580.65,357.06 L582.85,356.16 L585.09,355.27 L587.35,354.39 L589.65,353.53 L591.99,352.67 L594.35,351.83 L596.75,351 L599.18,350.19 L601.65,349.38 L604.15,348.59 L606.69,347.8 L609.27,347.03 L611.88,346.27 L614.52,345.52 L617.21,344.77 L619.93,344.04 L622.69,343.32 L625.49,342.61 L628.34,341.91 L631.22,341.22 L634.14,340.54 L637.1,339.87 L640.11,339.21 L643.15,338.56 L646.25,337.91 L649.38,337.28 L652.56,336.65 L655.79,336.04 L659.06,335.43 L662.37,334.83 L665.74,334.24 L669.15,333.65 L672.61,333.08 L676.12,332.51 L679.68,331.95 L683.29,331.4 L686.95,330.86 L690.66,330.32 L694.42,329.79 L698.24,329.27 L702.11,328.76 L706.04,328.25 L710.03,327.75 L714.07,327.26 L718.16,326.78 L722.32,326.3 L726.53,325.82 L730.81,325.36 L735.14,324.9 L739.54,324.45 L744,324 L748.52,323.56 L753.1,323.13 L757.75,322.7" stroke="#ff0000" vector-effect="non-scaling-stroke"/>
<path d="M460.12,579.69 L460.61,575.68 L461.11,571.71 L461.62,567.81 L462.14,563.95 L462.66,560.16 L463.19,556.41 L463.73,552.72 L464.28,549.08 L464.83,545.49 L465.39,541.95 L465.96,538.46 L466.54,535.02 L467.13,531.62 L467.72,528.28 L468.33,524.98 L468.94,521.72 L469.56,518.52 L470.19,515.35 L470.82,512.24 L471.47,509.16 L472.13,506.13 L472.79,503.14 L473.47,500.19 L474.15,497.29 L474.85,494.42 L475.55,491.6 L476.26,488.81 L476.99,486.07 L477.72,483.36 L478.47,480.69 L479.22,478.05 L479.99,475.46 L480.77,472.9 L481.55,470.37 L482.35,467.89 L483.16,465.43 L483.99,463.01 L484.82,460.63 L485.67,458.27 L486.52,455.95 L487.39,453.67 L488.27,451.41 L489.17,449.19 L490.08,447 L491,444.84 L491.93,442.7 L492.88,440.6 L493.84,438.53 L494.81,436.49 L495.8,434.47 L496.8,432.49 L497.81,430.53 L498.84,428.6 L499.89,426.69 L500.95,424.82 L502.02,422.97 L503.11,421.14 L504.22,419.34 L505.34,417.57 L506.48,415.82 L507.63,414.09 L508.8,412.39 L509.98,410.71 L511.19,409.06 L512.41,407.43 L513.64,405.82 L514.9,404.24 L516.17,402.67 L517.46,401.13 L518.77,399.61 L520.1,398.11 L521.44,396.64 L522.81,395.18 L524.19,393.74 L525.6,392.33 L527.02,390.93 L528.47,389.55 L529.93,388.2 L531.42,386.86 L532.93,385.54 L534.45,384.24 L536,382.95 L537.58,381.69 L539.17,380.44 L540.79,379.21 L542.43,378 L544.09,376.8 L545.78,375.62 L547.49,374.46 L549.22,373.31 L550.98,372.18 L552.77,371.07 L554.58,369.97 L556.41,368.89 L558.27,367.82 L560.16,366.77 L562.08,365.73 L564.02,364.7 L565.99,363.69 L567.99,362.7 L570.01,361.72 L572.07,360.75 L574.15,359.79 L576.27,358.85 L578.41,357.92 L580.58,357.01 L582.79,356.11 L585.02,355.22 L587.29,354.34 L589.59,353.48 L591.92,352.62 L594.29,351.78 L596.69,350.95 L599.12,350.14 L601.59,349.33 L604.09,348.54 L606.63,347.75 L609.21,346.98 L611.82,346.22 L614.47,345.47 L617.15,344.73 L619.88,344 L622.64,343.28 L625.44,342.57 L628.28,341.87 L631.16,341.18 L634.09,340.5 L637.05,339.82 L640.06,339.16 L643.11,338.51 L646.2,337.87 L649.33,337.23 L652.51,336.61 L655.74,335.99 L659.01,335.38 L662.33,334.78 L665.69,334.19 L669.11,333.61 L672.57,333.04 L676.08,332.47 L679.64,331.91 L683.25,331.36 L686.91,330.82 L690.63,330.28 L694.39,329.75 L698.21,329.23 L702.09,328.72 L706.02,328.21 L710,327.71 L714.04,327.22 L718.14,326.74 L722.3,326.26 L726.52,325.79 L730.79,325.32 L735.13,324.86 L739.53,324.41 L743.99,323.96 L748.51,323.52 L753.1,323.09 L757.75,322.66" stroke="#0000ff" vector-effect="non-scaling-stroke"/>
<path d="M459.26,579.69 L459.75,575.63 L460.25,571.63 L460.75,567.68 L461.26,563.79 L461.78,559.95 L462.3,556.17 L462.83,552.44 L463.37,548.76 L463.92,545.13 L464.47,541.56 L465.04,538.04 L465.61,534.57 L466.19,531.14 L466.77,527.77 L467.37,524.44 L467.97,521.16 L468.59,517.92 L469.21,514.73 L469.84,511.59 L470.48,508.49 L471.13,505.44 L471.79,502.43 L472.46,499.46 L473.13,496.53 L473.82,493.64 L474.52,490.8 L475.23,487.99 L475.94,485.23 L476.67,482.5 L477.41,479.82 L478.16,477.17 L478.92,474.55 L479.69,471.98 L480.47,469.44 L481.26,466.94 L482.06,464.47 L482.88,462.04 L483.71,459.64 L484.54,457.28 L485.4,454.95 L486.26,452.65 L487.13,450.38 L488.02,448.15 L488.92,445.95 L489.84,443.78 L490.76,441.64 L491.7,439.53 L492.66,437.45 L493.63,435.4 L494.61,433.38 L495.6,431.39 L496.61,429.42 L497.64,427.49 L498.67,425.58 L499.73,423.7 L500.8,421.84 L501.88,420.01 L502.98,418.21 L504.1,416.43 L505.23,414.68 L506.38,412.95 L507.54,411.25 L508.72,409.57 L509.92,407.91 L511.13,406.28 L512.37,404.67 L513.62,403.08 L514.89,401.52 L516.17,399.98 L517.48,398.46 L518.8,396.96 L520.14,395.48 L521.5,394.03 L522.89,392.59 L524.29,391.18 L525.71,389.78 L527.15,388.41 L528.61,387.05 L530.1,385.71 L531.6,384.39 L533.13,383.1 L534.67,381.81 L536.25,380.55 L537.84,379.31 L539.45,378.08 L541.09,376.87 L542.76,375.68 L544.44,374.5 L546.15,373.34 L547.89,372.2 L549.65,371.07 L551.43,369.96 L553.24,368.86 L555.08,367.79 L556.94,366.72 L558.83,365.67 L560.75,364.64 L562.69,363.62 L564.67,362.61 L566.67,361.62 L568.7,360.64 L570.76,359.68 L572.84,358.73 L574.96,357.79 L577.11,356.87 L579.29,355.96 L581.5,355.06 L583.74,354.18 L586.02,353.31 L588.33,352.45 L590.67,351.6 L593.04,350.77 L595.45,349.94 L597.89,349.13 L600.37,348.33 L602.88,347.54 L605.43,346.76 L608.02,346 L610.64,345.24 L613.3,344.49 L616,343.76 L618.73,343.03 L621.51,342.32 L624.33,341.62 L627.18,340.92 L630.08,340.24 L633.02,339.56 L636,338.9 L639.03,338.24 L642.1,337.6 L645.21,336.96 L648.36,336.33 L651.57,335.71 L654.81,335.1 L658.11,334.5 L661.45,333.9 L664.84,333.32 L668.28,332.74 L671.77,332.17 L675.3,331.61 L678.89,331.06 L682.53,330.52 L686.22,329.98 L689.97,329.45 L693.77,328.93 L697.62,328.41 L701.53,327.91 L705.5,327.4 L709.52,326.91 L713.6,326.43 L717.74,325.95 L721.93,325.47 L726.19,325.01 L730.51,324.55 L734.89,324.1 L739.33,323.65 L743.84,323.21 L748.41,322.78 L753.05,322.35 L757.75,321.93" stroke="#0000ff" vector-effect="non-scaling-stroke"/>
</g>
<g stroke="#000" stroke-width="2.05"><line x1="124.6" x2="124.6" y1="557.8" y2="546.0"/><line x1="180.02" x2="180.02" y1="557.8" y2="546.0"/><line x1="235.43" x2="235.43" y1="557.8" y2="546.0"/><line x1="290.85" x2="290.85" y1="557.8" y2="546.0"/><line x1="346.27" x2="346.27" y1="557.8" y2="546.0"/></g>
<g stroke="#000" stroke-width="2.3"><line x1="68.93" x2="80.82" y1="513.43" y2="513.43"/><line x1="68.93" x2="80.82" y1="402.99" y2="402.99"/><line x1="68.93" x2="80.82" y1="292.55" y2="292.55"/><line x1="68.93" x2="80.82" y1="182.11" y2="182.11"/><line x1="68.93" x2="80.82" y1="71.67" y2="71.67"/></g>
<g stroke="#000" stroke-width="2.05"><line x1="480.66" x2="480.66" y1="557.8" y2="546.0"/><line x1="536.08" x2="536.08" y1="557.8" y2="546.0"/><line x1="591.5" x2="591.5" y1="557.8" y2="546.0"/><line x1="646.92" x2="646.92" y1="557.8" y2="546.0"/><line x1="702.34" x2="702.34" y1="557.8" y2="546.0"/></g>
<g stroke="#000" stroke-width="2.3"><line x1="425.12" x2="437.01" y1="513.43" y2="513.43"/><line x1="425.12" x2="437.01" y1="402.99" y2="402.99"/><line x1="425.12" x2="437.01" y1="292.55" y2="292.55"/><line x1="425.12" x2="437.01" y1="182.11" y2="182.11"/><line x1="425.12" x2="437.01" y1="71.67" y2="71.67"/></g>
<line x1="70.57" x2="400.08" y1="292.7" y2="292.7" stroke="#00bfbf" stroke-width="1.75"/>
<line x1="426.76" x2="756.39" y1="292.7" y2="292.7" stroke="#00bfbf" stroke-width="1.75"/>
<g stroke="#000" stroke-linecap="square"><line x1="68.93" x2="68.93" y1="27.7" y2="557.8" stroke-width="3.03"/><line x1="401.72" x2="401.72" y1="27.7" y2="557.8" stroke-width="3.03"/><line x1="68.93" x2="401.72" y1="27.7" y2="27.7" stroke-width="3.5"/><line x1="68.93" x2="401.72" y1="557.8" y2="557.8" stroke-width="3.5"/></g>
<g stroke="#000" stroke-linecap="square"><line x1="425.12" x2="425.12" y1="27.7" y2="557.8" stroke-width="3.03"/><line x1="758.03" x2="758.03" y1="27.7" y2="557.8" stroke-width="3.03"/><line x1="425.12" x2="758.03" y1="27.7" y2="27.7" stroke-width="3.5"/><line x1="425.12" x2="758.03" y1="557.8" y2="557.8" stroke-width="3.5"/></g>
<clipPath id="iL"><rect x="190.9" y="86.1" width="115.53" height="75.7"/></clipPath>
<rect x="190.9" y="86.1" width="115.53" height="75.7" fill="#fff"/>
<g clip-path="url(#iL)"><path d="M178.61,69.45 L182.11,72.31 L185.61,75.15 L189.12,77.97 L192.62,80.77 L196.12,83.55 L199.63,86.32 L203.13,89.07 L206.63,91.81 L210.13,94.52 L213.64,97.22 L217.14,99.91 L220.64,102.57 L224.15,105.22 L227.65,107.85 L231.15,110.46 L234.66,113.06 L238.16,115.64 L241.66,118.2 L245.16,120.75 L248.67,123.27 L252.17,125.78 L255.67,128.28 L259.18,130.75 L262.68,133.21 L266.18,135.65 L269.69,138.08 L273.19,140.48 L276.69,142.87 L280.2,145.25 L283.7,147.6 L287.2,149.94 L290.7,152.26 L294.21,154.56 L297.71,156.85 L301.21,159.12 L304.72,161.37 L308.22,163.61 L311.72,165.82 L315.23,168.03 L318.73,170.21" stroke="#ff0000" stroke-width="1.85" fill="none" vector-effect="non-scaling-stroke"/><path d="M178.61,74.32 L182.11,77.14 L185.61,79.94 L189.12,82.72 L192.62,85.49 L196.12,88.24 L199.63,90.97 L203.13,93.69 L206.63,96.39 L210.13,99.07 L213.64,101.74 L217.14,104.39 L220.64,107.02 L224.15,109.64 L227.65,112.24 L231.15,114.82 L234.66,117.39 L238.16,119.94 L241.66,122.47 L245.16,124.98 L248.67,127.48 L252.17,129.97 L255.67,132.43 L259.18,134.88 L262.68,137.31 L266.18,139.73 L269.69,142.13 L273.19,144.51 L276.69,146.88 L280.2,149.23 L283.7,151.56 L287.2,153.87 L290.7,156.17 L294.21,158.46 L297.71,160.72 L301.21,162.97 L304.72,165.2 L308.22,167.42 L311.72,169.62 L315.23,171.8 L318.73,173.96" stroke="#0000ff" stroke-width="1.85" fill="none" vector-effect="non-scaling-stroke"/></g>
<g stroke="#000" stroke-width="1.9"><line x1="184.02" x2="190.9" y1="86.1" y2="86.1"/><line x1="184.02" x2="190.9" y1="161.8" y2="161.8"/><line x1="190.9" x2="190.9" y1="161.8" y2="168.5" stroke-width="1.64"/><line x1="306.43" x2="306.43" y1="161.8" y2="168.5" stroke-width="1.64"/></g>
<g stroke="#000" stroke-linecap="square"><line x1="190.9" x2="190.9" y1="86.1" y2="161.8" stroke-width="2.62"/><line x1="306.43" x2="306.43" y1="86.1" y2="161.8" stroke-width="2.62"/><line x1="190.9" x2="306.43" y1="86.1" y2="86.1" stroke-width="3.1"/><line x1="190.9" x2="306.43" y1="161.8" y2="161.8" stroke-width="3.1"/></g>
<clipPath id="iR"><rect x="544.75" y="86.1" width="115.49" height="75.7"/></clipPath>
<rect x="544.75" y="86.1" width="115.49" height="75.7" fill="#fff"/>
<g clip-path="url(#iR)"><path d="M532.46,115.55 L535.96,116.74 L539.46,117.92 L542.97,119.1 L546.47,120.26 L549.97,121.41 L553.47,122.56 L556.97,123.7 L560.48,124.82 L563.98,125.94 L567.48,127.05 L570.98,128.15 L574.48,129.24 L577.99,130.32 L581.49,131.39 L584.99,132.46 L588.49,133.51 L591.99,134.56 L595.5,135.59 L599,136.62 L602.5,137.64 L606,138.64 L609.5,139.64 L613.01,140.63 L616.51,141.62 L620.01,142.59 L623.51,143.55 L627.01,144.5 L630.52,145.45 L634.02,146.39 L637.52,147.31 L641.02,148.23 L644.52,149.14 L648.03,150.04 L651.53,150.93 L655.03,151.81 L658.53,152.68 L662.03,153.54 L665.54,154.4 L669.04,155.24 L672.54,156.08" stroke="#ff0000" stroke-width="1.85" fill="none" vector-effect="non-scaling-stroke"/><path d="M532.46,115.85 L535.96,117.04 L539.46,118.22 L542.97,119.4 L546.47,120.56 L549.97,121.71 L553.47,122.86 L556.97,124 L560.48,125.12 L563.98,126.24 L567.48,127.35 L570.98,128.45 L574.48,129.54 L577.99,130.62 L581.49,131.69 L584.99,132.76 L588.49,133.81 L591.99,134.86 L595.5,135.89 L599,136.92 L602.5,137.94 L606,138.94 L609.5,139.94 L613.01,140.93 L616.51,141.92 L620.01,142.89 L623.51,143.85 L627.01,144.8 L630.52,145.75 L634.02,146.69 L637.52,147.61 L641.02,148.53 L644.52,149.44 L648.03,150.34 L651.53,151.23 L655.03,152.11 L658.53,152.98 L662.03,153.84 L665.54,154.7 L669.04,155.54 L672.54,156.38" stroke="#0000ff" stroke-width="1.85" fill="none" vector-effect="non-scaling-stroke"/><path d="M532.46,122.76 L535.96,123.92 L539.46,125.08 L542.97,126.22 L546.47,127.36 L549.97,128.48 L553.47,129.6 L556.97,130.71 L560.48,131.81 L563.98,132.9 L567.48,133.98 L570.98,135.06 L574.48,136.12 L577.99,137.18 L581.49,138.23 L584.99,139.27 L588.49,140.3 L591.99,141.32 L595.5,142.33 L599,143.34 L602.5,144.33 L606,145.32 L609.5,146.3 L613.01,147.27 L616.51,148.23 L620.01,149.18 L623.51,150.13 L627.01,151.06 L630.52,151.99 L634.02,152.9 L637.52,153.81 L641.02,154.71 L644.52,155.6 L648.03,156.49 L651.53,157.36 L655.03,158.23 L658.53,159.08 L662.03,159.93 L665.54,160.77 L669.04,161.6 L672.54,162.42" stroke="#0000ff" stroke-width="1.85" fill="none" vector-effect="non-scaling-stroke"/></g>
<g stroke="#000" stroke-width="1.9"><line x1="537.87" x2="544.75" y1="86.1" y2="86.1"/><line x1="537.87" x2="544.75" y1="161.8" y2="161.8"/><line x1="544.75" x2="544.75" y1="161.8" y2="168.5" stroke-width="1.64"/><line x1="660.25" x2="660.25" y1="161.8" y2="168.5" stroke-width="1.64"/></g>
<g stroke="#000" stroke-linecap="square"><line x1="544.75" x2="544.75" y1="86.1" y2="161.8" stroke-width="2.62"/><line x1="660.25" x2="660.25" y1="86.1" y2="161.8" stroke-width="2.62"/><line x1="544.75" x2="660.25" y1="86.1" y2="86.1" stroke-width="3.1"/><line x1="544.75" x2="660.25" y1="161.8" y2="161.8" stroke-width="3.1"/></g>
<g stroke="#000" stroke-width="1.5" fill="none" stroke-linecap="round" stroke-linejoin="round"><path d="M174.59,174.7 L187.09,163.6 M178.85,165.8 L187.09,163.6 L183.93,171.85" vector-effect="non-scaling-stroke"/><path d="M184.92,187.5 L302.83,165.2 M294.67,164.6 L302.83,165.2 L295.57,170.4" vector-effect="non-scaling-stroke"/><path d="M526.8,194.0 L543.69,164.4 M537.13,167.6 L543.69,164.4 L543.93,171.2" vector-effect="non-scaling-stroke"/><path d="M539.51,203.05 L658.85,164.9 M650.49,164.8 L658.85,164.9 L652.54,170.9" vector-effect="non-scaling-stroke"/></g>
<g stroke="#fff" stroke-width="0.2"><g transform="translate(-40.527,-2.107) scale(0.9980,1.0365) translate(60.000,80.950)"><text x="0" y="0" style="font-family:'Liberation Serif',serif;font-size:29.0px;" >100</text></g>
<g transform="translate(-27.282,-6.254) scale(1.0107,1.0365) translate(60.000,191.850)"><text x="0" y="0" style="font-family:'Liberation Serif',serif;font-size:29.0px;" >50</text></g>
<g transform="translate(-13.608,-10.240) scale(1.0235,1.0365) translate(60.000,301.900)"><text x="0" y="0" style="font-family:'Liberation Serif',serif;font-size:29.0px;" >0</text></g>
<g transform="translate(-27.282,-14.224) scale(1.0107,1.0365) translate(60.000,411.900)"><text x="0" y="0" style="font-family:'Liberation Serif',serif;font-size:29.0px;" >50</text></g>
<g transform="translate(-40.527,-18.321) scale(0.9980,1.0365) translate(60.000,522.850)"><text x="0" y="0" style="font-family:'Liberation Serif',serif;font-size:29.0px;" >100</text></g>
<g transform="translate(0.118,-23.638) scale(0.9831,1.0418) translate(63.115,584.000)"><text x="0" y="0" style="font-family:'Liberation Serif',serif;font-size:29.0px;" >0</text></g>
<g transform="translate(4.739,-23.537) scale(0.9648,1.0417) translate(166.803,584.000)"><text x="0" y="0" style="font-family:'Liberation Serif',serif;font-size:29.0px;" >20</text></g>
<g transform="translate(8.479,-23.537) scale(0.9680,1.0417) translate(277.459,584.000)"><text x="0" y="0" style="font-family:'Liberation Serif',serif;font-size:29.0px;" >40</text></g>
<g transform="translate(1.740,-23.537) scale(0.9923,1.0417) translate(388.443,584.000)"><text x="0" y="0" style="font-family:'Liberation Serif',serif;font-size:29.0px;" >60</text></g>
<g transform="translate(5.538,-23.587) scale(0.9844,1.0418) translate(419.098,584.000)"><text x="0" y="0" style="font-family:'Liberation Serif',serif;font-size:29.0px;" >0</text></g>
<g transform="translate(14.792,-23.537) scale(0.9694,1.0417) translate(523.115,584.000)"><text x="0" y="0" style="font-family:'Liberation Serif',serif;font-size:29.0px;" >20</text></g>
<g transform="translate(16.567,-23.638) scale(0.9731,1.0418) translate(633.770,584.000)"><text x="0" y="0" style="font-family:'Liberation Serif',serif;font-size:29.0px;" >40</text></g>
<g transform="translate(4.692,-23.537) scale(0.9923,1.0417) translate(744.918,584.000)"><text x="0" y="0" style="font-family:'Liberation Serif',serif;font-size:29.0px;" >60</text></g>
<g transform="translate(-43.425,-32.479) scale(1.2146,1.0526) translate(202.459,617.000)"><text x="0" y="0" style="font-family:'Liberation Serif',serif;font-size:23.5px;font-style:italic" >R</text></g>
<g transform="translate(59.196,-109.609) scale(0.7302,1.1789) translate(219.672,617.000)"><text x="0" y="0" style="font-family:'Liberation Serif',serif;font-size:23.5px;" >(</text></g>
<g transform="translate(-45.057,49.588) scale(1.1972,0.9196) translate(227.049,617.000)"><text x="0" y="0" style="font-family:'Liberation Serif',serif;font-size:23.5px;font-style:italic" >nm</text></g>
<g transform="translate(47.351,-109.598) scale(0.8195,1.1789) translate(261.475,617.000)"><text x="0" y="0" style="font-family:'Liberation Serif',serif;font-size:23.5px;" >)</text></g>
<g transform="translate(-124.892,-32.479) scale(1.2233,1.0526) translate(558.730,617.000)"><text x="0" y="0" style="font-family:'Liberation Serif',serif;font-size:23.5px;font-style:italic" >R</text></g>
<g transform="translate(145.275,-109.573) scale(0.7474,1.1789) translate(575.943,617.000)"><text x="0" y="0" style="font-family:'Liberation Serif',serif;font-size:23.5px;" >(</text></g>
<g transform="translate(-119.927,49.588) scale(1.2048,0.9196) translate(583.320,617.000)"><text x="0" y="0" style="font-family:'Liberation Serif',serif;font-size:23.5px;font-style:italic" >nm</text></g>
<g transform="translate(107.496,-109.574) scale(0.8260,1.1789) translate(617.746,617.000)"><text x="0" y="0" style="font-family:'Liberation Serif',serif;font-size:23.5px;" >)</text></g>
<g transform="translate(1.037,-68.042) scale(0.9848,1.2061) translate(29.508,334.000)"><text x="0" y="0" style="font-family:'Liberation Serif',serif;font-size:23.5px;font-style:italic" transform="rotate(-90)">E</text></g>
<g transform="translate(-0.594,-44.569) scale(1.0615,1.1462) translate(29.508,314.000)"><text x="0" y="0" style="font-family:'Liberation Serif',serif;font-size:23.5px;" transform="rotate(-90)">(</text></g>
<g transform="translate(1.180,-31.642) scale(0.9744,1.1089) translate(29.508,306.000)"><text x="0" y="0" style="font-family:'Liberation Serif',serif;font-size:23.5px;font-style:italic" transform="rotate(-90)">meV</text></g>
<g transform="translate(-0.870,-6.301) scale(1.0733,1.0287) translate(29.508,257.000)"><text x="0" y="0" style="font-family:'Liberation Serif',serif;font-size:23.5px;" transform="rotate(-90)">)</text></g>
<g transform="translate(-18.212,-9.613) scale(1.0582,1.1377) translate(292.459,72.000)"><text x="0" y="0" style="font-family:'Liberation Sans',sans-serif;font-size:21.5px;">(a)</text></g>
<g transform="translate(-71.735,-7.240) scale(1.2189,1.0887) translate(327.049,72.000)"><text x="0" y="0" style="font-family:'Liberation Serif',serif;font-size:21.5px;" ><tspan font-style="italic">kη</tspan></text></g>
<g transform="translate(-160.907,-16.679) scale(1.4474,1.2775) translate(358.197,72.000)"><text x="0" y="0" style="font-family:'Liberation Serif',serif;font-size:21.5px;" >=</text></g>
<g transform="translate(-35.544,-9.002) scale(1.0916,1.1222) translate(381.967,72.000)"><text x="0" y="0" style="font-family:'Liberation Serif',serif;font-size:21.5px;" >0</text></g>
<g transform="translate(-61.325,-10.308) scale(1.0925,1.1467) translate(648.607,72.000)"><text x="0" y="0" style="font-family:'Liberation Sans',sans-serif;font-size:21.5px;">(b)</text></g>
<g transform="translate(-155.651,-7.254) scale(1.2275,1.0889) translate(683.770,72.000)"><text x="0" y="0" style="font-family:'Liberation Serif',serif;font-size:21.5px;" ><tspan font-style="italic">kη</tspan></text></g>
<g transform="translate(-330.833,-16.679) scale(1.4616,1.2775) translate(714.918,72.000)"><text x="0" y="0" style="font-family:'Liberation Serif',serif;font-size:21.5px;" >=</text></g>
<g transform="translate(-59.375,-9.033) scale(1.0797,1.1227) translate(738.689,72.000)"><text x="0" y="0" style="font-family:'Liberation Serif',serif;font-size:21.5px;" >0</text></g>
<g transform="translate(-10.532,1.520) scale(1.0679,0.8934) translate(147.213,16.000)"><text x="0" y="0" style="font-family:'Liberation Serif',serif;font-size:23.5px;font-style:italic" >α</text></g>
<g transform="translate(-65.869,0.335) scale(1.3816,1.1561) translate(168.361,16.000)"><text x="0" y="0" style="font-family:'Liberation Serif',serif;font-size:23.5px;" >=</text></g>
<g transform="translate(-0.930,-0.965) scale(1.0000,1.0724) translate(192.131,16.000)"><text x="0" y="0" style="font-family:'Liberation Serif',serif;font-size:23.5px;" >0.5</text></g>
<g transform="translate(56.081,0.651) scale(0.7442,1.0000) translate(221.967,16.000)"><text x="0" y="0" style="font-family:'Liberation Serif',serif;font-size:23.5px;" >,</text></g>
<g transform="translate(-34.010,-0.200) scale(1.1496,1.0000) translate(231.066,16.000)"><text x="0" y="0" style="font-family:'Liberation Serif',serif;font-size:23.5px;font-style:italic" >λ</text></g>
<g transform="translate(-29.592,3.663) scale(1.1198,0.9464) translate(244.672,16.000)"><text x="0" y="0" style="font-family:'Liberation Serif',serif;font-size:16.919999999999998px;font-style:italic" >R</text></g>
<g transform="translate(-86.980,0.335) scale(1.3236,1.1561) translate(264.508,16.000)"><text x="0" y="0" style="font-family:'Liberation Serif',serif;font-size:23.5px;" >=</text></g>
<g transform="translate(-0.719,0.200) scale(0.9992,1.0000) translate(288.033,16.000)"><text x="0" y="0" style="font-family:'Liberation Serif',serif;font-size:23.5px;" >0.5<tspan font-style="italic">t</tspan></text></g>
<g transform="translate(-43.001,1.854) scale(1.0826,0.8662) translate(512.131,16.000)"><text x="0" y="0" style="font-family:'Liberation Serif',serif;font-size:23.5px;font-style:italic" >α</text></g>
<g transform="translate(-193.294,0.335) scale(1.3597,1.1561) translate(533.361,16.000)"><text x="0" y="0" style="font-family:'Liberation Serif',serif;font-size:23.5px;" >=</text></g>
<g transform="translate(14.701,-0.300) scale(0.9697,1.0000) translate(558.033,16.000)"><text x="0" y="0" style="font-family:'Liberation Serif',serif;font-size:23.5px;" >1</text></g>
<g transform="translate(84.284,0.637) scale(0.8503,1.0000) translate(569.180,16.000)"><text x="0" y="0" style="font-family:'Liberation Serif',serif;font-size:23.5px;" >,</text></g>
<g transform="translate(-81.185,-0.200) scale(1.1414,1.0000) translate(578.689,16.000)"><text x="0" y="0" style="font-family:'Liberation Serif',serif;font-size:23.5px;font-style:italic" >λ</text></g>
<g transform="translate(-76.111,3.650) scale(1.1282,0.9286) translate(592.295,16.000)"><text x="0" y="0" style="font-family:'Liberation Serif',serif;font-size:16.919999999999998px;font-style:italic" >R</text></g>
<g transform="translate(-199.346,0.335) scale(1.3236,1.1561) translate(612.131,16.000)"><text x="0" y="0" style="font-family:'Liberation Serif',serif;font-size:23.5px;" >=</text></g>
<g transform="translate(0.359,0.200) scale(0.9981,1.0000) translate(635.000,16.000)"><text x="0" y="0" style="font-family:'Liberation Serif',serif;font-size:23.5px;" >0.5<tspan font-style="italic">t</tspan></text></g></g>
<rect x="13.93" y="404.6" width="17.62" height="1.6" fill="#000"/>
<rect x="-0.41" y="515.7" width="17.79" height="1.6" fill="#000"/>
</svg>
</body></html>
